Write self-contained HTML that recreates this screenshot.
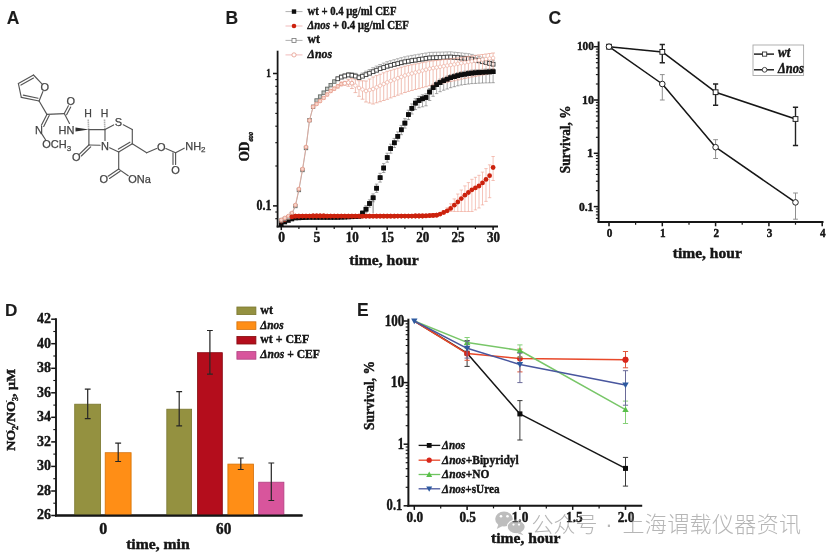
<!DOCTYPE html>
<html><head><meta charset="utf-8"><title>Figure</title>
<style>html,body{margin:0;padding:0;background:#fff}svg{display:block}</style>
</head><body>
<svg width="831" height="556" viewBox="0 0 831 556">
<rect width="831" height="556" fill="#fff"/>
<defs><filter id="soft" x="0" y="0" width="100%" height="100%" filterUnits="userSpaceOnUse"><feGaussianBlur stdDeviation="0.38"/></filter></defs>
<g filter="url(#soft)">
<text x="6.8" y="23.7" font-size="17.5" text-anchor="start" font-family="Liberation Sans, sans-serif" font-weight="bold" fill="#1c1c1c" stroke="#1c1c1c" stroke-width="0.1" >A</text>
<text x="225.6" y="23.5" font-size="17.5" text-anchor="start" font-family="Liberation Sans, sans-serif" font-weight="bold" fill="#1c1c1c" stroke="#1c1c1c" stroke-width="0.1" >B</text>
<text x="548.6" y="23.5" font-size="17.5" text-anchor="start" font-family="Liberation Sans, sans-serif" font-weight="bold" fill="#1c1c1c" stroke="#1c1c1c" stroke-width="0.1" >C</text>
<text x="4.9" y="316.3" font-size="17.2" text-anchor="start" font-family="Liberation Sans, sans-serif" font-weight="bold" fill="#1c1c1c" stroke="#1c1c1c" stroke-width="0.1" >D</text>
<text x="357.1" y="315.8" font-size="17.5" text-anchor="start" font-family="Liberation Sans, sans-serif" font-weight="bold" fill="#1c1c1c" stroke="#1c1c1c" stroke-width="0.1" >E</text>
<g id="molA" stroke="#555" stroke-width="1.15" fill="none" stroke-linecap="round">
<line x1="18.4" y1="83.6" x2="33.5" y2="75.0"/>
<line x1="21.0" y1="85.1" x2="33.5" y2="78.0"/>
<line x1="33.5" y1="75.0" x2="41.7" y2="83.6"/>
<line x1="42.9" y1="91.5" x2="39.1" y2="101.0"/>
<line x1="39.1" y1="101.0" x2="21.3" y2="97.4"/>
<line x1="38.1" y1="98.2" x2="23.3" y2="95.1"/>
<line x1="21.3" y1="97.4" x2="18.4" y2="83.6"/>
<line x1="39.1" y1="101.0" x2="46.9" y2="114.4"/>
<line x1="46.9" y1="114.4" x2="41.4" y2="125.3"/>
<line x1="49.2" y1="115.6" x2="43.7" y2="126.5"/>
<line x1="42.1" y1="134.4" x2="46.0" y2="140.5"/>
<line x1="46.9" y1="114.4" x2="64.3" y2="113.6"/>
<line x1="64.3" y1="113.6" x2="68.4" y2="105.8"/>
<line x1="66.6" y1="114.8" x2="70.7" y2="107.0"/>
<line x1="64.3" y1="113.6" x2="69.5" y2="123.5"/>
<line x1="88.9" y1="129.6" x2="105.0" y2="129.6"/>
<line x1="88.9" y1="129.6" x2="88.9" y2="145.0"/>
<line x1="88.9" y1="145.0" x2="100.0" y2="145.3"/>
<line x1="105.0" y1="129.6" x2="105.0" y2="140.5"/>
<line x1="88.9" y1="145.0" x2="79.5" y2="154.2"/>
<line x1="90.7" y1="146.9" x2="81.3" y2="156.0"/>
<line x1="105.0" y1="129.6" x2="113.6" y2="124.9"/>
<line x1="123.3" y1="124.8" x2="132.3" y2="129.6"/>
<line x1="132.3" y1="129.6" x2="132.3" y2="143.8"/>
<line x1="132.3" y1="143.8" x2="118.7" y2="151.9"/>
<line x1="129.9" y1="142.2" x2="118.4" y2="149.1"/>
<line x1="118.7" y1="151.9" x2="109.6" y2="147.8"/>
<line x1="118.7" y1="151.9" x2="118.7" y2="169.1"/>
<line x1="118.7" y1="169.1" x2="108.1" y2="176.2"/>
<line x1="120.1" y1="171.3" x2="109.5" y2="178.4"/>
<line x1="118.7" y1="169.1" x2="128.2" y2="175.7"/>
<line x1="132.3" y1="143.8" x2="146.7" y2="152.8"/>
<line x1="146.7" y1="152.8" x2="156.6" y2="148.5"/>
<line x1="165.8" y1="148.5" x2="175.6" y2="152.8"/>
<line x1="175.6" y1="152.8" x2="175.6" y2="164.5"/>
<line x1="173.0" y1="152.8" x2="173.0" y2="164.5"/>
<line x1="175.6" y1="152.8" x2="184.2" y2="148.2"/>
</g>
<polygon points="75.5,127.6 75.5,131.6 88.9,129.6" fill="#2e2e2e"/>
<g stroke="#666" stroke-width="1.6" stroke-dasharray="0.8,1.2">
<line x1="88.6" y1="128.5" x2="88.2" y2="119"/>
<line x1="104.8" y1="128.5" x2="104.5" y2="119"/>
</g>
<text x="44.8" y="90.9" font-size="11" text-anchor="middle" font-family="Liberation Sans, sans-serif" fill="#444" stroke="#444" stroke-width="0.25">O</text>
<text x="39.1" y="133.8" font-size="11" text-anchor="middle" font-family="Liberation Sans, sans-serif" fill="#444" stroke="#444" stroke-width="0.25">N</text>
<text x="42.2" y="148.4" font-size="11" text-anchor="start" font-family="Liberation Sans, sans-serif" fill="#444" stroke="#444" stroke-width="0.25">OCH<tspan font-size="8" dy="2.5">3</tspan></text>
<text x="70.7" y="105.4" font-size="11" text-anchor="middle" font-family="Liberation Sans, sans-serif" fill="#444" stroke="#444" stroke-width="0.25">O</text>
<text x="74.5" y="133.8" font-size="11" text-anchor="end" font-family="Liberation Sans, sans-serif" fill="#444" stroke="#444" stroke-width="0.25">HN</text>
<text x="88.0" y="117.2" font-size="10.5" text-anchor="middle" font-family="Liberation Sans, sans-serif" fill="#444" stroke="#444" stroke-width="0.25">H</text>
<text x="104.5" y="117.2" font-size="10.5" text-anchor="middle" font-family="Liberation Sans, sans-serif" fill="#444" stroke="#444" stroke-width="0.25">H</text>
<text x="118.4" y="126.2" font-size="11" text-anchor="middle" font-family="Liberation Sans, sans-serif" fill="#444" stroke="#444" stroke-width="0.25">S</text>
<text x="105.0" y="149.8" font-size="11" text-anchor="middle" font-family="Liberation Sans, sans-serif" fill="#444" stroke="#444" stroke-width="0.25">N</text>
<text x="76.3" y="161.3" font-size="11" text-anchor="middle" font-family="Liberation Sans, sans-serif" fill="#444" stroke="#444" stroke-width="0.25">O</text>
<text x="103.9" y="183.0" font-size="11" text-anchor="middle" font-family="Liberation Sans, sans-serif" fill="#444" stroke="#444" stroke-width="0.25">O</text>
<text x="128.3" y="183.0" font-size="11" text-anchor="start" font-family="Liberation Sans, sans-serif" fill="#444" stroke="#444" stroke-width="0.25">ONa</text>
<text x="161.2" y="150.5" font-size="11" text-anchor="middle" font-family="Liberation Sans, sans-serif" fill="#444" stroke="#444" stroke-width="0.25">O</text>
<text x="175.6" y="174.0" font-size="11" text-anchor="middle" font-family="Liberation Sans, sans-serif" fill="#444" stroke="#444" stroke-width="0.25">O</text>
<text x="185.2" y="149.6" font-size="11" text-anchor="start" font-family="Liberation Sans, sans-serif" fill="#444" stroke="#444" stroke-width="0.25">NH<tspan font-size="8" dy="2.5">2</tspan></text>
<line x1="277.6" y1="50.7" x2="277.6" y2="227.4" stroke="#141414" stroke-width="1.8" />
<line x1="276.7" y1="226.5" x2="498.0" y2="226.5" stroke="#141414" stroke-width="1.8" />
<line x1="273.0" y1="73.5" x2="277.6" y2="73.5" stroke="#141414" stroke-width="1.5" />
<line x1="273.0" y1="205.9" x2="277.6" y2="205.9" stroke="#141414" stroke-width="1.5" />
<line x1="275.3" y1="218.7" x2="277.6" y2="218.7" stroke="#141414" stroke-width="1.1" />
<line x1="275.3" y1="212.0" x2="277.6" y2="212.0" stroke="#141414" stroke-width="1.1" />
<line x1="275.3" y1="166.0" x2="277.6" y2="166.0" stroke="#141414" stroke-width="1.1" />
<line x1="275.3" y1="142.7" x2="277.6" y2="142.7" stroke="#141414" stroke-width="1.1" />
<line x1="275.3" y1="126.2" x2="277.6" y2="126.2" stroke="#141414" stroke-width="1.1" />
<line x1="275.3" y1="113.4" x2="277.6" y2="113.4" stroke="#141414" stroke-width="1.1" />
<line x1="275.3" y1="102.9" x2="277.6" y2="102.9" stroke="#141414" stroke-width="1.1" />
<line x1="275.3" y1="94.0" x2="277.6" y2="94.0" stroke="#141414" stroke-width="1.1" />
<line x1="275.3" y1="86.3" x2="277.6" y2="86.3" stroke="#141414" stroke-width="1.1" />
<line x1="275.3" y1="79.6" x2="277.6" y2="79.6" stroke="#141414" stroke-width="1.1" />
<line x1="281.3" y1="226.5" x2="281.3" y2="230.1" stroke="#141414" stroke-width="1.5" />
<line x1="316.6" y1="226.5" x2="316.6" y2="230.1" stroke="#141414" stroke-width="1.5" />
<line x1="351.9" y1="226.5" x2="351.9" y2="230.1" stroke="#141414" stroke-width="1.5" />
<line x1="387.2" y1="226.5" x2="387.2" y2="230.1" stroke="#141414" stroke-width="1.5" />
<line x1="422.5" y1="226.5" x2="422.5" y2="230.1" stroke="#141414" stroke-width="1.5" />
<line x1="457.8" y1="226.5" x2="457.8" y2="230.1" stroke="#141414" stroke-width="1.5" />
<line x1="493.1" y1="226.5" x2="493.1" y2="230.1" stroke="#141414" stroke-width="1.5" />
<line x1="298.9" y1="226.5" x2="298.9" y2="228.9" stroke="#141414" stroke-width="1.2" />
<line x1="334.2" y1="226.5" x2="334.2" y2="228.9" stroke="#141414" stroke-width="1.2" />
<line x1="369.6" y1="226.5" x2="369.6" y2="228.9" stroke="#141414" stroke-width="1.2" />
<line x1="404.9" y1="226.5" x2="404.9" y2="228.9" stroke="#141414" stroke-width="1.2" />
<line x1="440.1" y1="226.5" x2="440.1" y2="228.9" stroke="#141414" stroke-width="1.2" />
<line x1="475.4" y1="226.5" x2="475.4" y2="228.9" stroke="#141414" stroke-width="1.2" />
<text x="270.8" y="77.4" font-size="12.8" text-anchor="end" font-family="Liberation Serif, serif" font-weight="bold" fill="#141414" stroke="#141414" stroke-width="0.42" textLength="4.6" lengthAdjust="spacingAndGlyphs" >1</text>
<text x="271.6" y="210.2" font-size="14.2" text-anchor="end" font-family="Liberation Serif, serif" font-weight="bold" fill="#141414" stroke="#141414" stroke-width="0.42" textLength="15.0" lengthAdjust="spacingAndGlyphs" >0.1</text>
<text x="281.6" y="242.1" font-size="13.6" text-anchor="middle" font-family="Liberation Serif, serif" font-weight="bold" fill="#141414" stroke="#141414" stroke-width="0.42" >0</text>
<text x="316.9" y="242.1" font-size="13.6" text-anchor="middle" font-family="Liberation Serif, serif" font-weight="bold" fill="#141414" stroke="#141414" stroke-width="0.42" >5</text>
<text x="352.2" y="242.1" font-size="13.6" text-anchor="middle" font-family="Liberation Serif, serif" font-weight="bold" fill="#141414" stroke="#141414" stroke-width="0.42" textLength="13.0" lengthAdjust="spacingAndGlyphs" >10</text>
<text x="387.5" y="242.1" font-size="13.6" text-anchor="middle" font-family="Liberation Serif, serif" font-weight="bold" fill="#141414" stroke="#141414" stroke-width="0.42" textLength="13.0" lengthAdjust="spacingAndGlyphs" >15</text>
<text x="422.8" y="242.1" font-size="13.6" text-anchor="middle" font-family="Liberation Serif, serif" font-weight="bold" fill="#141414" stroke="#141414" stroke-width="0.42" textLength="13.0" lengthAdjust="spacingAndGlyphs" >20</text>
<text x="458.1" y="242.1" font-size="13.6" text-anchor="middle" font-family="Liberation Serif, serif" font-weight="bold" fill="#141414" stroke="#141414" stroke-width="0.42" textLength="13.0" lengthAdjust="spacingAndGlyphs" >25</text>
<text x="493.4" y="242.1" font-size="13.6" text-anchor="middle" font-family="Liberation Serif, serif" font-weight="bold" fill="#141414" stroke="#141414" stroke-width="0.42" textLength="13.0" lengthAdjust="spacingAndGlyphs" >30</text>
<text x="384.0" y="264.5" font-size="14.7" text-anchor="middle" font-family="Liberation Serif, serif" font-weight="bold" fill="#141414" stroke="#141414" stroke-width="0.42" textLength="69.5" lengthAdjust="spacingAndGlyphs" >time, hour</text>
<text transform="translate(248.7,146.9) rotate(-90)" font-size="14" text-anchor="middle" font-family="Liberation Serif, serif" font-weight="bold" fill="#141414" stroke="#141414" stroke-width="0.42" textLength="29.4" lengthAdjust="spacingAndGlyphs" >OD<tspan font-size="6.6" dy="4.6" font-style="italic">600</tspan></text>
<path d="M362.5 211.1V215.1M360.8 211.1H364.2M360.8 215.1H364.2" stroke="#6e6e6e" stroke-width="0.6" fill="none"/>
<path d="M366.0 205.7V212.7M364.3 205.7H367.7M364.3 212.7H367.7" stroke="#6e6e6e" stroke-width="0.6" fill="none"/>
<path d="M369.6 199.8V207.2M367.9 199.8H371.2M367.9 207.2H371.2" stroke="#6e6e6e" stroke-width="0.6" fill="none"/>
<path d="M373.1 193.9V201.8M371.4 193.9H374.8M371.4 201.8H374.8" stroke="#6e6e6e" stroke-width="0.6" fill="none"/>
<path d="M376.6 184.1V192.4M374.9 184.1H378.3M374.9 192.4H378.3" stroke="#6e6e6e" stroke-width="0.6" fill="none"/>
<path d="M380.1 173.3V182.1M378.4 173.3H381.8M378.4 182.1H381.8" stroke="#6e6e6e" stroke-width="0.6" fill="none"/>
<path d="M383.7 163.6V172.5M382.0 163.6H385.4M382.0 172.5H385.4" stroke="#6e6e6e" stroke-width="0.6" fill="none"/>
<path d="M387.2 153.2V162.2M385.5 153.2H388.9M385.5 162.2H388.9" stroke="#6e6e6e" stroke-width="0.6" fill="none"/>
<path d="M390.7 144.2V153.2M389.0 144.2H392.4M389.0 153.2H392.4" stroke="#6e6e6e" stroke-width="0.6" fill="none"/>
<path d="M394.3 138.4V147.5M392.6 138.4H396.0M392.6 147.5H396.0" stroke="#6e6e6e" stroke-width="0.6" fill="none"/>
<path d="M397.8 131.9V141.1M396.1 131.9H399.5M396.1 141.1H399.5" stroke="#6e6e6e" stroke-width="0.6" fill="none"/>
<path d="M401.3 125.4V134.7M399.6 125.4H403.0M399.6 134.7H403.0" stroke="#6e6e6e" stroke-width="0.6" fill="none"/>
<path d="M404.9 118.7V128.1M403.2 118.7H406.6M403.2 128.1H406.6" stroke="#6e6e6e" stroke-width="0.6" fill="none"/>
<path d="M408.4 110.2V119.6M406.7 110.2H410.1M406.7 119.6H410.1" stroke="#6e6e6e" stroke-width="0.6" fill="none"/>
<path d="M411.9 103.9V114.0M410.2 103.9H413.6M410.2 114.0H413.6" stroke="#6e6e6e" stroke-width="0.6" fill="none"/>
<path d="M415.4 98.7V109.6M413.7 98.7H417.1M413.7 109.6H417.1" stroke="#6e6e6e" stroke-width="0.6" fill="none"/>
<path d="M419.0 96.3V107.7M417.3 96.3H420.7M417.3 107.7H420.7" stroke="#6e6e6e" stroke-width="0.6" fill="none"/>
<path d="M422.5 94.8V106.8M420.8 94.8H424.2M420.8 106.8H424.2" stroke="#6e6e6e" stroke-width="0.6" fill="none"/>
<path d="M426.0 93.8V105.8M424.3 93.8H427.7M424.3 105.8H427.7" stroke="#6e6e6e" stroke-width="0.6" fill="none"/>
<path d="M429.6 88.5V100.5M427.9 88.5H431.3M427.9 100.5H431.3" stroke="#6e6e6e" stroke-width="0.6" fill="none"/>
<path d="M433.1 84.2V96.3M431.4 84.2H434.8M431.4 96.3H434.8" stroke="#6e6e6e" stroke-width="0.6" fill="none"/>
<path d="M436.6 81.3V93.6M434.9 81.3H438.3M434.9 93.6H438.3" stroke="#6e6e6e" stroke-width="0.6" fill="none"/>
<path d="M440.1 79.2V91.7M438.4 79.2H441.8M438.4 91.7H441.8" stroke="#6e6e6e" stroke-width="0.6" fill="none"/>
<path d="M443.7 77.5V90.2M442.0 77.5H445.4M442.0 90.2H445.4" stroke="#6e6e6e" stroke-width="0.6" fill="none"/>
<path d="M447.2 76.1V89.0M445.5 76.1H448.9M445.5 89.0H448.9" stroke="#6e6e6e" stroke-width="0.6" fill="none"/>
<path d="M450.7 74.7V87.7M449.0 74.7H452.4M449.0 87.7H452.4" stroke="#6e6e6e" stroke-width="0.6" fill="none"/>
<path d="M454.3 73.7V86.7M452.6 73.7H456.0M452.6 86.7H456.0" stroke="#6e6e6e" stroke-width="0.6" fill="none"/>
<path d="M457.8 72.6V85.8M456.1 72.6H459.5M456.1 85.8H459.5" stroke="#6e6e6e" stroke-width="0.6" fill="none"/>
<path d="M461.3 71.8V85.0M459.6 71.8H463.0M459.6 85.0H463.0" stroke="#6e6e6e" stroke-width="0.6" fill="none"/>
<path d="M464.9 71.2V84.5M463.2 71.2H466.6M463.2 84.5H466.6" stroke="#6e6e6e" stroke-width="0.6" fill="none"/>
<path d="M468.4 70.6V84.0M466.7 70.6H470.1M466.7 84.0H470.1" stroke="#6e6e6e" stroke-width="0.6" fill="none"/>
<path d="M471.9 70.1V83.6M470.2 70.1H473.6M470.2 83.6H473.6" stroke="#6e6e6e" stroke-width="0.6" fill="none"/>
<path d="M475.4 69.8V83.4M473.8 69.8H477.1M473.8 83.4H477.1" stroke="#6e6e6e" stroke-width="0.6" fill="none"/>
<path d="M479.0 69.5V83.2M477.3 69.5H480.7M477.3 83.2H480.7" stroke="#6e6e6e" stroke-width="0.6" fill="none"/>
<path d="M482.5 69.3V83.0M480.8 69.3H484.2M480.8 83.0H484.2" stroke="#6e6e6e" stroke-width="0.6" fill="none"/>
<path d="M486.0 69.1V82.9M484.3 69.1H487.7M484.3 82.9H487.7" stroke="#6e6e6e" stroke-width="0.6" fill="none"/>
<path d="M489.6 68.9V82.8M487.9 68.9H491.3M487.9 82.8H491.3" stroke="#6e6e6e" stroke-width="0.6" fill="none"/>
<path d="M493.1 68.7V82.7M491.4 68.7H494.8M491.4 82.7H494.8" stroke="#6e6e6e" stroke-width="0.6" fill="none"/>
<line x1="373.1" y1="197.8" x2="373.1" y2="213.0" stroke="#555" stroke-width="0.7" />
<rect x="279.0" y="221.7" width="4.6" height="4.6" fill="#0a0a0a" stroke="none" stroke-width="1"/>
<rect x="282.5" y="219.7" width="4.6" height="4.6" fill="#0a0a0a" stroke="none" stroke-width="1"/>
<rect x="286.1" y="218.2" width="4.6" height="4.6" fill="#0a0a0a" stroke="none" stroke-width="1"/>
<rect x="289.6" y="216.7" width="4.6" height="4.6" fill="#0a0a0a" stroke="none" stroke-width="1"/>
<rect x="293.1" y="215.7" width="4.6" height="4.6" fill="#0a0a0a" stroke="none" stroke-width="1"/>
<rect x="296.6" y="215.6" width="4.6" height="4.6" fill="#0a0a0a" stroke="none" stroke-width="1"/>
<rect x="300.2" y="215.4" width="4.6" height="4.6" fill="#0a0a0a" stroke="none" stroke-width="1"/>
<rect x="303.7" y="215.3" width="4.6" height="4.6" fill="#0a0a0a" stroke="none" stroke-width="1"/>
<rect x="307.2" y="215.2" width="4.6" height="4.6" fill="#0a0a0a" stroke="none" stroke-width="1"/>
<rect x="310.8" y="215.2" width="4.6" height="4.6" fill="#0a0a0a" stroke="none" stroke-width="1"/>
<rect x="314.3" y="215.2" width="4.6" height="4.6" fill="#0a0a0a" stroke="none" stroke-width="1"/>
<rect x="317.8" y="215.2" width="4.6" height="4.6" fill="#0a0a0a" stroke="none" stroke-width="1"/>
<rect x="321.4" y="215.2" width="4.6" height="4.6" fill="#0a0a0a" stroke="none" stroke-width="1"/>
<rect x="324.9" y="215.2" width="4.6" height="4.6" fill="#0a0a0a" stroke="none" stroke-width="1"/>
<rect x="328.4" y="215.2" width="4.6" height="4.6" fill="#0a0a0a" stroke="none" stroke-width="1"/>
<rect x="331.9" y="215.2" width="4.6" height="4.6" fill="#0a0a0a" stroke="none" stroke-width="1"/>
<rect x="335.5" y="215.2" width="4.6" height="4.6" fill="#0a0a0a" stroke="none" stroke-width="1"/>
<rect x="339.0" y="215.0" width="4.6" height="4.6" fill="#0a0a0a" stroke="none" stroke-width="1"/>
<rect x="342.5" y="214.9" width="4.6" height="4.6" fill="#0a0a0a" stroke="none" stroke-width="1"/>
<rect x="346.1" y="214.7" width="4.6" height="4.6" fill="#0a0a0a" stroke="none" stroke-width="1"/>
<rect x="349.6" y="214.5" width="4.6" height="4.6" fill="#0a0a0a" stroke="none" stroke-width="1"/>
<rect x="353.1" y="214.4" width="4.6" height="4.6" fill="#0a0a0a" stroke="none" stroke-width="1"/>
<rect x="356.7" y="214.2" width="4.6" height="4.6" fill="#0a0a0a" stroke="none" stroke-width="1"/>
<rect x="360.2" y="210.8" width="4.6" height="4.6" fill="#0a0a0a" stroke="none" stroke-width="1"/>
<rect x="363.7" y="206.9" width="4.6" height="4.6" fill="#0a0a0a" stroke="none" stroke-width="1"/>
<rect x="367.2" y="201.2" width="4.6" height="4.6" fill="#0a0a0a" stroke="none" stroke-width="1"/>
<rect x="370.8" y="195.5" width="4.6" height="4.6" fill="#0a0a0a" stroke="none" stroke-width="1"/>
<rect x="374.3" y="185.9" width="4.6" height="4.6" fill="#0a0a0a" stroke="none" stroke-width="1"/>
<rect x="377.8" y="175.4" width="4.6" height="4.6" fill="#0a0a0a" stroke="none" stroke-width="1"/>
<rect x="381.4" y="165.7" width="4.6" height="4.6" fill="#0a0a0a" stroke="none" stroke-width="1"/>
<rect x="384.9" y="155.3" width="4.6" height="4.6" fill="#0a0a0a" stroke="none" stroke-width="1"/>
<rect x="388.4" y="146.3" width="4.6" height="4.6" fill="#0a0a0a" stroke="none" stroke-width="1"/>
<rect x="392.0" y="140.5" width="4.6" height="4.6" fill="#0a0a0a" stroke="none" stroke-width="1"/>
<rect x="395.5" y="134.0" width="4.6" height="4.6" fill="#0a0a0a" stroke="none" stroke-width="1"/>
<rect x="399.0" y="127.5" width="4.6" height="4.6" fill="#0a0a0a" stroke="none" stroke-width="1"/>
<rect x="402.6" y="120.8" width="4.6" height="4.6" fill="#0a0a0a" stroke="none" stroke-width="1"/>
<rect x="406.1" y="112.3" width="4.6" height="4.6" fill="#0a0a0a" stroke="none" stroke-width="1"/>
<rect x="409.6" y="106.0" width="4.6" height="4.6" fill="#0a0a0a" stroke="none" stroke-width="1"/>
<rect x="413.1" y="100.8" width="4.6" height="4.6" fill="#0a0a0a" stroke="none" stroke-width="1"/>
<rect x="416.7" y="98.2" width="4.6" height="4.6" fill="#0a0a0a" stroke="none" stroke-width="1"/>
<rect x="420.2" y="96.5" width="4.6" height="4.6" fill="#0a0a0a" stroke="none" stroke-width="1"/>
<rect x="423.7" y="95.2" width="4.6" height="4.6" fill="#0a0a0a" stroke="none" stroke-width="1"/>
<rect x="427.3" y="89.7" width="4.6" height="4.6" fill="#0a0a0a" stroke="none" stroke-width="1"/>
<rect x="430.8" y="85.3" width="4.6" height="4.6" fill="#0a0a0a" stroke="none" stroke-width="1"/>
<rect x="434.3" y="82.3" width="4.6" height="4.6" fill="#0a0a0a" stroke="none" stroke-width="1"/>
<rect x="437.8" y="80.2" width="4.6" height="4.6" fill="#0a0a0a" stroke="none" stroke-width="1"/>
<rect x="441.4" y="78.4" width="4.6" height="4.6" fill="#0a0a0a" stroke="none" stroke-width="1"/>
<rect x="444.9" y="76.9" width="4.6" height="4.6" fill="#0a0a0a" stroke="none" stroke-width="1"/>
<rect x="448.4" y="75.4" width="4.6" height="4.6" fill="#0a0a0a" stroke="none" stroke-width="1"/>
<rect x="452.0" y="74.4" width="4.6" height="4.6" fill="#0a0a0a" stroke="none" stroke-width="1"/>
<rect x="455.5" y="73.3" width="4.6" height="4.6" fill="#0a0a0a" stroke="none" stroke-width="1"/>
<rect x="459.0" y="72.5" width="4.6" height="4.6" fill="#0a0a0a" stroke="none" stroke-width="1"/>
<rect x="462.6" y="71.9" width="4.6" height="4.6" fill="#0a0a0a" stroke="none" stroke-width="1"/>
<rect x="466.1" y="71.3" width="4.6" height="4.6" fill="#0a0a0a" stroke="none" stroke-width="1"/>
<rect x="469.6" y="70.8" width="4.6" height="4.6" fill="#0a0a0a" stroke="none" stroke-width="1"/>
<rect x="473.1" y="70.5" width="4.6" height="4.6" fill="#0a0a0a" stroke="none" stroke-width="1"/>
<rect x="476.7" y="70.2" width="4.6" height="4.6" fill="#0a0a0a" stroke="none" stroke-width="1"/>
<rect x="480.2" y="70.0" width="4.6" height="4.6" fill="#0a0a0a" stroke="none" stroke-width="1"/>
<rect x="483.7" y="69.8" width="4.6" height="4.6" fill="#0a0a0a" stroke="none" stroke-width="1"/>
<rect x="487.3" y="69.6" width="4.6" height="4.6" fill="#0a0a0a" stroke="none" stroke-width="1"/>
<rect x="490.8" y="69.4" width="4.6" height="4.6" fill="#0a0a0a" stroke="none" stroke-width="1"/>
<path d="M443.7 210.8V213.5M442.0 210.8H445.4M442.0 213.5H445.4" stroke="#ee9c8c" stroke-width="0.6" fill="none"/>
<path d="M447.2 207.8V211.8M445.5 207.8H448.9M445.5 211.8H448.9" stroke="#ee9c8c" stroke-width="0.6" fill="none"/>
<path d="M450.7 203.8V211.5M449.0 203.8H452.4M449.0 211.5H452.4" stroke="#ee9c8c" stroke-width="0.6" fill="none"/>
<path d="M454.3 198.9V211.5M452.6 198.9H456.0M452.6 211.5H456.0" stroke="#ee9c8c" stroke-width="0.6" fill="none"/>
<path d="M457.8 194.0V211.5M456.1 194.0H459.5M456.1 211.5H459.5" stroke="#ee9c8c" stroke-width="0.6" fill="none"/>
<path d="M461.3 190.0V211.5M459.6 190.0H463.0M459.6 211.5H463.0" stroke="#ee9c8c" stroke-width="0.6" fill="none"/>
<path d="M464.9 185.9V211.5M463.2 185.9H466.6M463.2 211.5H466.6" stroke="#ee9c8c" stroke-width="0.6" fill="none"/>
<path d="M468.4 182.6V211.5M466.7 182.6H470.1M466.7 211.5H470.1" stroke="#ee9c8c" stroke-width="0.6" fill="none"/>
<path d="M471.9 179.3V211.5M470.2 179.3H473.6M470.2 211.5H473.6" stroke="#ee9c8c" stroke-width="0.6" fill="none"/>
<path d="M475.4 177.3V209.9M473.8 177.3H477.1M473.8 209.9H477.1" stroke="#ee9c8c" stroke-width="0.6" fill="none"/>
<path d="M479.0 175.3V208.0M477.3 175.3H480.7M477.3 208.0H480.7" stroke="#ee9c8c" stroke-width="0.6" fill="none"/>
<path d="M482.5 172.1V204.9M480.8 172.1H484.2M480.8 204.9H484.2" stroke="#ee9c8c" stroke-width="0.6" fill="none"/>
<path d="M486.0 168.6V201.4M484.3 168.6H487.7M484.3 201.4H487.7" stroke="#ee9c8c" stroke-width="0.6" fill="none"/>
<path d="M489.6 164.8V197.7M487.9 164.8H491.3M487.9 197.7H491.3" stroke="#ee9c8c" stroke-width="0.6" fill="none"/>
<path d="M493.1 156.5V180.5M491.4 156.5H494.8M491.4 180.5H494.8" stroke="#ee9c8c" stroke-width="0.6" fill="none"/>
<circle cx="281.3" cy="221.0" r="2.4" fill="#cc220e" stroke="none" stroke-width="1"/>
<circle cx="284.8" cy="219.5" r="2.4" fill="#cc220e" stroke="none" stroke-width="1"/>
<circle cx="288.4" cy="217.5" r="2.4" fill="#cc220e" stroke="none" stroke-width="1"/>
<circle cx="291.9" cy="216.8" r="2.4" fill="#cc220e" stroke="none" stroke-width="1"/>
<circle cx="295.4" cy="216.2" r="2.4" fill="#cc220e" stroke="none" stroke-width="1"/>
<circle cx="298.9" cy="216.2" r="2.4" fill="#cc220e" stroke="none" stroke-width="1"/>
<circle cx="302.5" cy="216.1" r="2.4" fill="#cc220e" stroke="none" stroke-width="1"/>
<circle cx="306.0" cy="216.1" r="2.4" fill="#cc220e" stroke="none" stroke-width="1"/>
<circle cx="309.5" cy="216.1" r="2.4" fill="#cc220e" stroke="none" stroke-width="1"/>
<circle cx="313.1" cy="216.0" r="2.4" fill="#cc220e" stroke="none" stroke-width="1"/>
<circle cx="316.6" cy="216.0" r="2.4" fill="#cc220e" stroke="none" stroke-width="1"/>
<circle cx="320.1" cy="216.0" r="2.4" fill="#cc220e" stroke="none" stroke-width="1"/>
<circle cx="323.7" cy="216.0" r="2.4" fill="#cc220e" stroke="none" stroke-width="1"/>
<circle cx="327.2" cy="216.1" r="2.4" fill="#cc220e" stroke="none" stroke-width="1"/>
<circle cx="330.7" cy="216.1" r="2.4" fill="#cc220e" stroke="none" stroke-width="1"/>
<circle cx="334.2" cy="216.1" r="2.4" fill="#cc220e" stroke="none" stroke-width="1"/>
<circle cx="337.8" cy="216.1" r="2.4" fill="#cc220e" stroke="none" stroke-width="1"/>
<circle cx="341.3" cy="216.1" r="2.4" fill="#cc220e" stroke="none" stroke-width="1"/>
<circle cx="344.8" cy="216.2" r="2.4" fill="#cc220e" stroke="none" stroke-width="1"/>
<circle cx="348.4" cy="216.2" r="2.4" fill="#cc220e" stroke="none" stroke-width="1"/>
<circle cx="351.9" cy="216.2" r="2.4" fill="#cc220e" stroke="none" stroke-width="1"/>
<circle cx="355.4" cy="216.2" r="2.4" fill="#cc220e" stroke="none" stroke-width="1"/>
<circle cx="359.0" cy="216.2" r="2.4" fill="#cc220e" stroke="none" stroke-width="1"/>
<circle cx="362.5" cy="216.2" r="2.4" fill="#cc220e" stroke="none" stroke-width="1"/>
<circle cx="366.0" cy="216.2" r="2.4" fill="#cc220e" stroke="none" stroke-width="1"/>
<circle cx="369.6" cy="216.2" r="2.4" fill="#cc220e" stroke="none" stroke-width="1"/>
<circle cx="373.1" cy="216.2" r="2.4" fill="#cc220e" stroke="none" stroke-width="1"/>
<circle cx="376.6" cy="216.2" r="2.4" fill="#cc220e" stroke="none" stroke-width="1"/>
<circle cx="380.1" cy="216.2" r="2.4" fill="#cc220e" stroke="none" stroke-width="1"/>
<circle cx="383.7" cy="216.2" r="2.4" fill="#cc220e" stroke="none" stroke-width="1"/>
<circle cx="387.2" cy="216.2" r="2.4" fill="#cc220e" stroke="none" stroke-width="1"/>
<circle cx="390.7" cy="216.2" r="2.4" fill="#cc220e" stroke="none" stroke-width="1"/>
<circle cx="394.3" cy="216.2" r="2.4" fill="#cc220e" stroke="none" stroke-width="1"/>
<circle cx="397.8" cy="216.1" r="2.4" fill="#cc220e" stroke="none" stroke-width="1"/>
<circle cx="401.3" cy="216.1" r="2.4" fill="#cc220e" stroke="none" stroke-width="1"/>
<circle cx="404.9" cy="216.1" r="2.4" fill="#cc220e" stroke="none" stroke-width="1"/>
<circle cx="408.4" cy="216.1" r="2.4" fill="#cc220e" stroke="none" stroke-width="1"/>
<circle cx="411.9" cy="216.1" r="2.4" fill="#cc220e" stroke="none" stroke-width="1"/>
<circle cx="415.4" cy="216.0" r="2.4" fill="#cc220e" stroke="none" stroke-width="1"/>
<circle cx="419.0" cy="216.0" r="2.4" fill="#cc220e" stroke="none" stroke-width="1"/>
<circle cx="422.5" cy="216.0" r="2.4" fill="#cc220e" stroke="none" stroke-width="1"/>
<circle cx="426.0" cy="215.8" r="2.4" fill="#cc220e" stroke="none" stroke-width="1"/>
<circle cx="429.6" cy="215.6" r="2.4" fill="#cc220e" stroke="none" stroke-width="1"/>
<circle cx="433.1" cy="215.4" r="2.4" fill="#cc220e" stroke="none" stroke-width="1"/>
<circle cx="436.6" cy="215.2" r="2.4" fill="#cc220e" stroke="none" stroke-width="1"/>
<circle cx="440.1" cy="214.1" r="2.4" fill="#cc220e" stroke="none" stroke-width="1"/>
<circle cx="443.7" cy="212.5" r="2.4" fill="#cc220e" stroke="none" stroke-width="1"/>
<circle cx="447.2" cy="210.8" r="2.4" fill="#cc220e" stroke="none" stroke-width="1"/>
<circle cx="450.7" cy="208.4" r="2.4" fill="#cc220e" stroke="none" stroke-width="1"/>
<circle cx="454.3" cy="205.2" r="2.4" fill="#cc220e" stroke="none" stroke-width="1"/>
<circle cx="457.8" cy="202.0" r="2.4" fill="#cc220e" stroke="none" stroke-width="1"/>
<circle cx="461.3" cy="198.6" r="2.4" fill="#cc220e" stroke="none" stroke-width="1"/>
<circle cx="464.9" cy="195.2" r="2.4" fill="#cc220e" stroke="none" stroke-width="1"/>
<circle cx="468.4" cy="192.5" r="2.4" fill="#cc220e" stroke="none" stroke-width="1"/>
<circle cx="471.9" cy="189.8" r="2.4" fill="#cc220e" stroke="none" stroke-width="1"/>
<circle cx="475.4" cy="187.9" r="2.4" fill="#cc220e" stroke="none" stroke-width="1"/>
<circle cx="479.0" cy="186.0" r="2.4" fill="#cc220e" stroke="none" stroke-width="1"/>
<circle cx="482.5" cy="182.9" r="2.4" fill="#cc220e" stroke="none" stroke-width="1"/>
<circle cx="486.0" cy="179.4" r="2.4" fill="#cc220e" stroke="none" stroke-width="1"/>
<circle cx="489.6" cy="175.7" r="2.4" fill="#cc220e" stroke="none" stroke-width="1"/>
<circle cx="493.1" cy="167.5" r="2.4" fill="#cc220e" stroke="none" stroke-width="1"/>
<path d="M298.9 189.2V190.3M297.1 189.2H300.8M297.1 190.3H300.8" stroke="#858585" stroke-width="0.6" fill="none"/>
<path d="M302.5 169.1V170.3M300.6 169.1H304.4M300.6 170.3H304.4" stroke="#858585" stroke-width="0.6" fill="none"/>
<path d="M306.0 147.1V148.4M304.1 147.1H307.9M304.1 148.4H307.9" stroke="#858585" stroke-width="0.6" fill="none"/>
<path d="M309.5 119.2V120.6M307.6 119.2H311.4M307.6 120.6H311.4" stroke="#858585" stroke-width="0.6" fill="none"/>
<path d="M313.1 105.7V107.2M311.2 105.7H315.0M311.2 107.2H315.0" stroke="#858585" stroke-width="0.6" fill="none"/>
<path d="M316.6 99.2V101.0M314.7 99.2H318.5M314.7 101.0H318.5" stroke="#858585" stroke-width="0.6" fill="none"/>
<path d="M320.1 95.2V97.1M318.2 95.2H322.0M318.2 97.1H322.0" stroke="#858585" stroke-width="0.6" fill="none"/>
<path d="M323.7 91.2V93.3M321.8 91.2H325.6M321.8 93.3H325.6" stroke="#858585" stroke-width="0.6" fill="none"/>
<path d="M327.2 87.3V89.6M325.3 87.3H329.1M325.3 89.6H329.1" stroke="#858585" stroke-width="0.6" fill="none"/>
<path d="M330.7 83.5V85.9M328.8 83.5H332.6M328.8 85.9H332.6" stroke="#858585" stroke-width="0.6" fill="none"/>
<path d="M334.2 79.8V82.4M332.4 79.8H336.1M332.4 82.4H336.1" stroke="#858585" stroke-width="0.6" fill="none"/>
<path d="M337.8 76.8V79.6M335.9 76.8H339.7M335.9 79.6H339.7" stroke="#858585" stroke-width="0.6" fill="none"/>
<path d="M341.3 74.9V77.9M339.4 74.9H343.2M339.4 77.9H343.2" stroke="#858585" stroke-width="0.6" fill="none"/>
<path d="M344.8 73.7V77.0M342.9 73.7H346.7M342.9 77.0H346.7" stroke="#858585" stroke-width="0.6" fill="none"/>
<path d="M348.4 72.5V76.0M346.5 72.5H350.3M346.5 76.0H350.3" stroke="#858585" stroke-width="0.6" fill="none"/>
<path d="M351.9 72.6V76.4M350.0 72.6H353.8M350.0 76.4H353.8" stroke="#858585" stroke-width="0.6" fill="none"/>
<path d="M355.4 73.3V77.3M353.5 73.3H357.3M353.5 77.3H357.3" stroke="#858585" stroke-width="0.6" fill="none"/>
<path d="M359.0 74.7V78.9M357.1 74.7H360.9M357.1 78.9H360.9" stroke="#858585" stroke-width="0.6" fill="none"/>
<path d="M362.5 73.0V77.5M360.6 73.0H364.4M360.6 77.5H364.4" stroke="#858585" stroke-width="0.6" fill="none"/>
<path d="M366.0 71.2V76.1M364.1 71.2H367.9M364.1 76.1H367.9" stroke="#858585" stroke-width="0.6" fill="none"/>
<path d="M369.6 69.5V74.7M367.7 69.5H371.4M367.7 74.7H371.4" stroke="#858585" stroke-width="0.6" fill="none"/>
<path d="M373.1 67.7V73.3M371.2 67.7H375.0M371.2 73.3H375.0" stroke="#858585" stroke-width="0.6" fill="none"/>
<path d="M376.6 66.1V71.9M374.7 66.1H378.5M374.7 71.9H378.5" stroke="#858585" stroke-width="0.6" fill="none"/>
<path d="M380.1 64.5V70.4M378.2 64.5H382.0M378.2 70.4H382.0" stroke="#858585" stroke-width="0.6" fill="none"/>
<path d="M383.7 63.1V69.2M381.8 63.1H385.6M381.8 69.2H385.6" stroke="#858585" stroke-width="0.6" fill="none"/>
<path d="M387.2 61.7V68.0M385.3 61.7H389.1M385.3 68.0H389.1" stroke="#858585" stroke-width="0.6" fill="none"/>
<path d="M390.7 60.7V67.2M388.8 60.7H392.6M388.8 67.2H392.6" stroke="#858585" stroke-width="0.6" fill="none"/>
<path d="M394.3 59.7V66.3M392.4 59.7H396.2M392.4 66.3H396.2" stroke="#858585" stroke-width="0.6" fill="none"/>
<path d="M397.8 58.7V65.5M395.9 58.7H399.7M395.9 65.5H399.7" stroke="#858585" stroke-width="0.6" fill="none"/>
<path d="M401.3 57.7V64.7M399.4 57.7H403.2M399.4 64.7H403.2" stroke="#858585" stroke-width="0.6" fill="none"/>
<path d="M404.9 56.8V63.9M403.0 56.8H406.8M403.0 63.9H406.8" stroke="#858585" stroke-width="0.6" fill="none"/>
<path d="M408.4 56.0V63.2M406.5 56.0H410.3M406.5 63.2H410.3" stroke="#858585" stroke-width="0.6" fill="none"/>
<path d="M411.9 55.4V62.7M410.0 55.4H413.8M410.0 62.7H413.8" stroke="#858585" stroke-width="0.6" fill="none"/>
<path d="M415.4 54.8V62.2M413.5 54.8H417.3M413.5 62.2H417.3" stroke="#858585" stroke-width="0.6" fill="none"/>
<path d="M419.0 54.2V61.7M417.1 54.2H420.9M417.1 61.7H420.9" stroke="#858585" stroke-width="0.6" fill="none"/>
<path d="M422.5 53.6V61.1M420.6 53.6H424.4M420.6 61.1H424.4" stroke="#858585" stroke-width="0.6" fill="none"/>
<path d="M426.0 53.0V60.6M424.1 53.0H427.9M424.1 60.6H427.9" stroke="#858585" stroke-width="0.6" fill="none"/>
<path d="M429.6 52.4V60.1M427.7 52.4H431.5M427.7 60.1H431.5" stroke="#858585" stroke-width="0.6" fill="none"/>
<path d="M433.1 52.3V59.9M431.2 52.3H435.0M431.2 59.9H435.0" stroke="#858585" stroke-width="0.6" fill="none"/>
<path d="M436.6 52.2V59.8M434.7 52.2H438.5M434.7 59.8H438.5" stroke="#858585" stroke-width="0.6" fill="none"/>
<path d="M440.1 52.1V59.6M438.2 52.1H442.0M438.2 59.6H442.0" stroke="#858585" stroke-width="0.6" fill="none"/>
<path d="M443.7 52.0V59.4M441.8 52.0H445.6M441.8 59.4H445.6" stroke="#858585" stroke-width="0.6" fill="none"/>
<path d="M447.2 51.9V59.2M445.3 51.9H449.1M445.3 59.2H449.1" stroke="#858585" stroke-width="0.6" fill="none"/>
<path d="M450.7 51.8V59.1M448.8 51.8H452.6M448.8 59.1H452.6" stroke="#858585" stroke-width="0.6" fill="none"/>
<path d="M454.3 52.2V59.4M452.4 52.2H456.2M452.4 59.4H456.2" stroke="#858585" stroke-width="0.6" fill="none"/>
<path d="M457.8 52.5V59.7M455.9 52.5H459.7M455.9 59.7H459.7" stroke="#858585" stroke-width="0.6" fill="none"/>
<path d="M461.3 52.9V60.0M459.4 52.9H463.2M459.4 60.0H463.2" stroke="#858585" stroke-width="0.6" fill="none"/>
<path d="M464.9 53.3V60.3M463.0 53.3H466.8M463.0 60.3H466.8" stroke="#858585" stroke-width="0.6" fill="none"/>
<path d="M468.4 53.7V60.6M466.5 53.7H470.3M466.5 60.6H470.3" stroke="#858585" stroke-width="0.6" fill="none"/>
<path d="M471.9 54.4V61.0M470.0 54.4H473.8M470.0 61.0H473.8" stroke="#858585" stroke-width="0.6" fill="none"/>
<path d="M475.4 55.4V61.8M473.6 55.4H477.3M473.6 61.8H477.3" stroke="#858585" stroke-width="0.6" fill="none"/>
<path d="M479.0 56.3V62.6M477.1 56.3H480.9M477.1 62.6H480.9" stroke="#858585" stroke-width="0.6" fill="none"/>
<path d="M482.5 57.3V63.4M480.6 57.3H484.4M480.6 63.4H484.4" stroke="#858585" stroke-width="0.6" fill="none"/>
<path d="M486.0 58.3V64.2M484.1 58.3H487.9M484.1 64.2H487.9" stroke="#858585" stroke-width="0.6" fill="none"/>
<path d="M489.6 59.2V65.0M487.7 59.2H491.5M487.7 65.0H491.5" stroke="#858585" stroke-width="0.6" fill="none"/>
<path d="M493.1 60.2V65.8M491.2 60.2H495.0M491.2 65.8H495.0" stroke="#858585" stroke-width="0.6" fill="none"/>
<polyline points="281.3,220.5 284.8,219.0 288.4,217.5 291.9,214.0 295.4,206.0 298.9,190.0 302.5,170.0 306.0,148.0 309.5,120.2 313.1,106.8 316.6,100.5 320.1,96.6 323.7,92.7 327.2,89.0 330.7,85.2 334.2,81.6 337.8,78.8 341.3,77.1 344.8,76.0 348.4,75.0 351.9,75.3 355.4,76.1 359.0,77.7 362.5,76.2 366.0,74.7 369.6,73.2 373.1,71.7 376.6,70.2 380.1,68.7 383.7,67.5 387.2,66.2 390.7,65.3 394.3,64.4 397.8,63.6 401.3,62.7 404.9,61.8 408.4,61.2 411.9,60.6 415.4,60.1 419.0,59.5 422.5,59.0 426.0,58.4 429.6,57.9 433.1,57.8 436.6,57.6 440.1,57.5 443.7,57.3 447.2,57.1 450.7,57.0 454.3,57.3 457.8,57.6 461.3,58.0 464.9,58.3 468.4,58.6 471.9,59.1 475.4,60.0 479.0,60.8 482.5,61.7 486.0,62.5 489.6,63.4 493.1,64.2" fill="none" stroke="#8a8a8a" stroke-width="0.7" stroke-linejoin="round" />
<rect x="279.6" y="218.8" width="3.4" height="3.4" fill="#c4c8c4" stroke="#6c706c" stroke-width="0.9"/>
<rect x="283.1" y="217.3" width="3.4" height="3.4" fill="#c4c8c4" stroke="#6c706c" stroke-width="0.9"/>
<rect x="286.7" y="215.8" width="3.4" height="3.4" fill="#c4c8c4" stroke="#6c706c" stroke-width="0.9"/>
<rect x="290.2" y="212.3" width="3.4" height="3.4" fill="#c4c8c4" stroke="#6c706c" stroke-width="0.9"/>
<rect x="293.7" y="204.3" width="3.4" height="3.4" fill="#c4c8c4" stroke="#6c706c" stroke-width="0.9"/>
<rect x="297.2" y="188.3" width="3.4" height="3.4" fill="#c4c8c4" stroke="#6c706c" stroke-width="0.9"/>
<rect x="300.8" y="168.3" width="3.4" height="3.4" fill="#c4c8c4" stroke="#6c706c" stroke-width="0.9"/>
<rect x="304.3" y="146.3" width="3.4" height="3.4" fill="#c4c8c4" stroke="#6c706c" stroke-width="0.9"/>
<rect x="307.8" y="118.5" width="3.4" height="3.4" fill="#c4c8c4" stroke="#6c706c" stroke-width="0.9"/>
<rect x="311.4" y="105.1" width="3.4" height="3.4" fill="#c4c8c4" stroke="#6c706c" stroke-width="0.9"/>
<rect x="314.9" y="98.8" width="3.4" height="3.4" fill="#c4c8c4" stroke="#6c706c" stroke-width="0.9"/>
<rect x="318.4" y="94.9" width="3.4" height="3.4" fill="#c4c8c4" stroke="#6c706c" stroke-width="0.9"/>
<rect x="322.0" y="91.0" width="3.4" height="3.4" fill="#c4c8c4" stroke="#6c706c" stroke-width="0.9"/>
<rect x="325.5" y="87.2" width="3.4" height="3.4" fill="#c4c8c4" stroke="#6c706c" stroke-width="0.9"/>
<rect x="329.0" y="83.5" width="3.4" height="3.4" fill="#c4c8c4" stroke="#6c706c" stroke-width="0.9"/>
<rect x="332.6" y="79.9" width="3.4" height="3.4" fill="#c4c8c4" stroke="#6c706c" stroke-width="0.9"/>
<rect x="335.9" y="76.9" width="3.8" height="3.8" fill="#fff" stroke="#3c3c3c" stroke-width="0.9"/>
<rect x="339.4" y="75.2" width="3.8" height="3.8" fill="#fff" stroke="#3c3c3c" stroke-width="0.9"/>
<rect x="342.9" y="74.1" width="3.8" height="3.8" fill="#fff" stroke="#3c3c3c" stroke-width="0.9"/>
<rect x="346.5" y="73.1" width="3.8" height="3.8" fill="#fff" stroke="#3c3c3c" stroke-width="0.9"/>
<rect x="350.0" y="73.4" width="3.8" height="3.8" fill="#fff" stroke="#3c3c3c" stroke-width="0.9"/>
<rect x="353.5" y="74.2" width="3.8" height="3.8" fill="#fff" stroke="#3c3c3c" stroke-width="0.9"/>
<rect x="357.1" y="75.8" width="3.8" height="3.8" fill="#fff" stroke="#3c3c3c" stroke-width="0.9"/>
<rect x="360.6" y="74.3" width="3.8" height="3.8" fill="#fff" stroke="#3c3c3c" stroke-width="0.9"/>
<rect x="364.1" y="72.8" width="3.8" height="3.8" fill="#fff" stroke="#3c3c3c" stroke-width="0.9"/>
<rect x="367.7" y="71.3" width="3.8" height="3.8" fill="#fff" stroke="#3c3c3c" stroke-width="0.9"/>
<rect x="371.2" y="69.8" width="3.8" height="3.8" fill="#fff" stroke="#3c3c3c" stroke-width="0.9"/>
<rect x="374.7" y="68.3" width="3.8" height="3.8" fill="#fff" stroke="#3c3c3c" stroke-width="0.9"/>
<rect x="378.2" y="66.8" width="3.8" height="3.8" fill="#fff" stroke="#3c3c3c" stroke-width="0.9"/>
<rect x="381.8" y="65.6" width="3.8" height="3.8" fill="#fff" stroke="#3c3c3c" stroke-width="0.9"/>
<rect x="385.3" y="64.3" width="3.8" height="3.8" fill="#fff" stroke="#3c3c3c" stroke-width="0.9"/>
<rect x="388.8" y="63.4" width="3.8" height="3.8" fill="#fff" stroke="#3c3c3c" stroke-width="0.9"/>
<rect x="392.4" y="62.5" width="3.8" height="3.8" fill="#fff" stroke="#3c3c3c" stroke-width="0.9"/>
<rect x="395.9" y="61.7" width="3.8" height="3.8" fill="#fff" stroke="#3c3c3c" stroke-width="0.9"/>
<rect x="399.4" y="60.8" width="3.8" height="3.8" fill="#fff" stroke="#3c3c3c" stroke-width="0.9"/>
<rect x="403.0" y="59.9" width="3.8" height="3.8" fill="#fff" stroke="#3c3c3c" stroke-width="0.9"/>
<rect x="406.5" y="59.3" width="3.8" height="3.8" fill="#fff" stroke="#3c3c3c" stroke-width="0.9"/>
<rect x="410.0" y="58.7" width="3.8" height="3.8" fill="#fff" stroke="#3c3c3c" stroke-width="0.9"/>
<rect x="413.5" y="58.2" width="3.8" height="3.8" fill="#fff" stroke="#3c3c3c" stroke-width="0.9"/>
<rect x="417.1" y="57.6" width="3.8" height="3.8" fill="#fff" stroke="#3c3c3c" stroke-width="0.9"/>
<rect x="420.6" y="57.1" width="3.8" height="3.8" fill="#fff" stroke="#3c3c3c" stroke-width="0.9"/>
<rect x="424.1" y="56.5" width="3.8" height="3.8" fill="#fff" stroke="#3c3c3c" stroke-width="0.9"/>
<rect x="427.7" y="56.0" width="3.8" height="3.8" fill="#fff" stroke="#3c3c3c" stroke-width="0.9"/>
<rect x="431.2" y="55.9" width="3.8" height="3.8" fill="#fff" stroke="#3c3c3c" stroke-width="0.9"/>
<rect x="434.7" y="55.7" width="3.8" height="3.8" fill="#fff" stroke="#3c3c3c" stroke-width="0.9"/>
<rect x="438.2" y="55.6" width="3.8" height="3.8" fill="#fff" stroke="#3c3c3c" stroke-width="0.9"/>
<rect x="441.8" y="55.4" width="3.8" height="3.8" fill="#fff" stroke="#3c3c3c" stroke-width="0.9"/>
<rect x="445.3" y="55.2" width="3.8" height="3.8" fill="#fff" stroke="#3c3c3c" stroke-width="0.9"/>
<rect x="448.8" y="55.1" width="3.8" height="3.8" fill="#fff" stroke="#3c3c3c" stroke-width="0.9"/>
<rect x="452.4" y="55.4" width="3.8" height="3.8" fill="#fff" stroke="#3c3c3c" stroke-width="0.9"/>
<rect x="455.9" y="55.7" width="3.8" height="3.8" fill="#fff" stroke="#3c3c3c" stroke-width="0.9"/>
<rect x="459.4" y="56.1" width="3.8" height="3.8" fill="#fff" stroke="#3c3c3c" stroke-width="0.9"/>
<rect x="463.0" y="56.4" width="3.8" height="3.8" fill="#fff" stroke="#3c3c3c" stroke-width="0.9"/>
<rect x="466.5" y="56.7" width="3.8" height="3.8" fill="#fff" stroke="#3c3c3c" stroke-width="0.9"/>
<rect x="470.0" y="57.2" width="3.8" height="3.8" fill="#fff" stroke="#3c3c3c" stroke-width="0.9"/>
<rect x="473.6" y="58.1" width="3.8" height="3.8" fill="#fff" stroke="#3c3c3c" stroke-width="0.9"/>
<rect x="477.1" y="58.9" width="3.8" height="3.8" fill="#fff" stroke="#3c3c3c" stroke-width="0.9"/>
<rect x="480.6" y="59.8" width="3.8" height="3.8" fill="#fff" stroke="#3c3c3c" stroke-width="0.9"/>
<rect x="484.1" y="60.6" width="3.8" height="3.8" fill="#fff" stroke="#3c3c3c" stroke-width="0.9"/>
<rect x="487.7" y="61.5" width="3.8" height="3.8" fill="#fff" stroke="#3c3c3c" stroke-width="0.9"/>
<rect x="491.2" y="62.3" width="3.8" height="3.8" fill="#fff" stroke="#3c3c3c" stroke-width="0.9"/>
<path d="M298.9 188.2V189.8M297.1 188.2H300.8M297.1 189.8H300.8" stroke="#eaa494" stroke-width="0.7" fill="none"/>
<path d="M302.5 168.1V169.9M300.6 168.1H304.4M300.6 169.9H304.4" stroke="#eaa494" stroke-width="0.7" fill="none"/>
<path d="M306.0 146.1V147.9M304.1 146.1H307.9M304.1 147.9H307.9" stroke="#eaa494" stroke-width="0.7" fill="none"/>
<path d="M309.5 119.4V121.4M307.6 119.4H311.4M307.6 121.4H311.4" stroke="#eaa494" stroke-width="0.7" fill="none"/>
<path d="M313.1 105.7V107.9M311.2 105.7H315.0M311.2 107.9H315.0" stroke="#eaa494" stroke-width="0.7" fill="none"/>
<path d="M316.6 102.8V105.2M314.7 102.8H318.5M314.7 105.2H318.5" stroke="#eaa494" stroke-width="0.7" fill="none"/>
<path d="M320.1 99.8V102.4M318.2 99.8H322.0M318.2 102.4H322.0" stroke="#eaa494" stroke-width="0.7" fill="none"/>
<path d="M323.7 96.5V99.3M321.8 96.5H325.6M321.8 99.3H325.6" stroke="#eaa494" stroke-width="0.7" fill="none"/>
<path d="M327.2 93.0V96.0M325.3 93.0H329.1M325.3 96.0H329.1" stroke="#eaa494" stroke-width="0.7" fill="none"/>
<path d="M330.7 89.4V92.6M328.8 89.4H332.6M328.8 92.6H332.6" stroke="#eaa494" stroke-width="0.7" fill="none"/>
<path d="M334.2 87.0V90.4M332.4 87.0H336.1M332.4 90.4H336.1" stroke="#eaa494" stroke-width="0.7" fill="none"/>
<path d="M337.8 84.5V88.1M335.9 84.5H339.7M335.9 88.1H339.7" stroke="#eaa494" stroke-width="0.7" fill="none"/>
<path d="M341.3 82.1V85.9M339.4 82.1H343.2M339.4 85.9H343.2" stroke="#eaa494" stroke-width="0.7" fill="none"/>
<path d="M344.8 81.3V85.3M342.9 81.3H346.7M342.9 85.3H346.7" stroke="#eaa494" stroke-width="0.7" fill="none"/>
<path d="M348.4 79.3V86.3M346.5 79.3H350.3M346.5 86.3H350.3" stroke="#eaa494" stroke-width="0.7" fill="none"/>
<path d="M351.9 78.5V88.5M350.0 78.5H353.8M350.0 88.5H353.8" stroke="#eaa494" stroke-width="0.7" fill="none"/>
<path d="M355.4 79.6V92.6M353.5 79.6H357.3M353.5 92.6H357.3" stroke="#eaa494" stroke-width="0.7" fill="none"/>
<path d="M359.0 80.7V96.3M357.1 80.7H360.9M357.1 96.3H360.9" stroke="#eaa494" stroke-width="0.7" fill="none"/>
<path d="M362.5 80.8V99.2M360.6 80.8H364.4M360.6 99.2H364.4" stroke="#eaa494" stroke-width="0.7" fill="none"/>
<path d="M366.0 81.0V102.0M364.1 81.0H367.9M364.1 102.0H367.9" stroke="#eaa494" stroke-width="0.7" fill="none"/>
<path d="M369.6 79.0V103.0M367.7 79.0H371.4M367.7 103.0H371.4" stroke="#eaa494" stroke-width="0.7" fill="none"/>
<path d="M373.1 77.0V104.0M371.2 77.0H375.0M371.2 104.0H375.0" stroke="#eaa494" stroke-width="0.7" fill="none"/>
<path d="M376.6 75.6V102.8M374.7 75.6H378.5M374.7 102.8H378.5" stroke="#eaa494" stroke-width="0.7" fill="none"/>
<path d="M380.1 74.2V101.7M378.2 74.2H382.0M378.2 101.7H382.0" stroke="#eaa494" stroke-width="0.7" fill="none"/>
<path d="M383.7 72.8V100.5M381.8 72.8H385.6M381.8 100.5H385.6" stroke="#eaa494" stroke-width="0.7" fill="none"/>
<path d="M387.2 71.3V99.3M385.3 71.3H389.1M385.3 99.3H389.1" stroke="#eaa494" stroke-width="0.7" fill="none"/>
<path d="M390.7 70.3V97.9M388.8 70.3H392.6M388.8 97.9H392.6" stroke="#eaa494" stroke-width="0.7" fill="none"/>
<path d="M394.3 69.2V96.6M392.4 69.2H396.2M392.4 96.6H396.2" stroke="#eaa494" stroke-width="0.7" fill="none"/>
<path d="M397.8 68.2V95.2M395.9 68.2H399.7M395.9 95.2H399.7" stroke="#eaa494" stroke-width="0.7" fill="none"/>
<path d="M401.3 67.2V93.9M399.4 67.2H403.2M399.4 93.9H403.2" stroke="#eaa494" stroke-width="0.7" fill="none"/>
<path d="M404.9 66.2V92.5M403.0 66.2H406.8M403.0 92.5H406.8" stroke="#eaa494" stroke-width="0.7" fill="none"/>
<path d="M408.4 65.4V91.4M406.5 65.4H410.3M406.5 91.4H410.3" stroke="#eaa494" stroke-width="0.7" fill="none"/>
<path d="M411.9 64.7V90.5M410.0 64.7H413.8M410.0 90.5H413.8" stroke="#eaa494" stroke-width="0.7" fill="none"/>
<path d="M415.4 64.0V89.5M413.5 64.0H417.3M413.5 89.5H417.3" stroke="#eaa494" stroke-width="0.7" fill="none"/>
<path d="M419.0 63.3V88.6M417.1 63.3H420.9M417.1 88.6H420.9" stroke="#eaa494" stroke-width="0.7" fill="none"/>
<path d="M422.5 62.6V87.6M420.6 62.6H424.4M420.6 87.6H424.4" stroke="#eaa494" stroke-width="0.7" fill="none"/>
<path d="M426.0 61.9V86.7M424.1 61.9H427.9M424.1 86.7H427.9" stroke="#eaa494" stroke-width="0.7" fill="none"/>
<path d="M429.6 61.2V85.7M427.7 61.2H431.5M427.7 85.7H431.5" stroke="#eaa494" stroke-width="0.7" fill="none"/>
<path d="M433.1 60.8V85.1M431.2 60.8H435.0M431.2 85.1H435.0" stroke="#eaa494" stroke-width="0.7" fill="none"/>
<path d="M436.6 60.5V84.5M434.7 60.5H438.5M434.7 84.5H438.5" stroke="#eaa494" stroke-width="0.7" fill="none"/>
<path d="M440.1 60.0V83.7M438.2 60.0H442.0M438.2 83.7H442.0" stroke="#eaa494" stroke-width="0.7" fill="none"/>
<path d="M443.7 59.6V83.0M441.8 59.6H445.6M441.8 83.0H445.6" stroke="#eaa494" stroke-width="0.7" fill="none"/>
<path d="M447.2 59.2V82.2M445.3 59.2H449.1M445.3 82.2H449.1" stroke="#eaa494" stroke-width="0.7" fill="none"/>
<path d="M450.7 58.8V81.5M448.8 58.8H452.6M448.8 81.5H452.6" stroke="#eaa494" stroke-width="0.7" fill="none"/>
<path d="M454.3 58.3V80.8M452.4 58.3H456.2M452.4 80.8H456.2" stroke="#eaa494" stroke-width="0.7" fill="none"/>
<path d="M457.8 57.9V80.0M455.9 57.9H459.7M455.9 80.0H459.7" stroke="#eaa494" stroke-width="0.7" fill="none"/>
<path d="M461.3 57.4V79.2M459.4 57.4H463.2M459.4 79.2H463.2" stroke="#eaa494" stroke-width="0.7" fill="none"/>
<path d="M464.9 57.0V78.5M463.0 57.0H466.8M463.0 78.5H466.8" stroke="#eaa494" stroke-width="0.7" fill="none"/>
<path d="M468.4 56.4V77.8M466.5 56.4H470.3M466.5 77.8H470.3" stroke="#eaa494" stroke-width="0.7" fill="none"/>
<path d="M471.9 55.9V77.0M470.0 55.9H473.8M470.0 77.0H473.8" stroke="#eaa494" stroke-width="0.7" fill="none"/>
<path d="M475.4 55.4V76.4M473.6 55.4H477.3M473.6 76.4H477.3" stroke="#eaa494" stroke-width="0.7" fill="none"/>
<path d="M479.0 54.9V75.7M477.1 54.9H480.9M477.1 75.7H480.9" stroke="#eaa494" stroke-width="0.7" fill="none"/>
<path d="M482.5 54.5V75.0M480.6 54.5H484.4M480.6 75.0H484.4" stroke="#eaa494" stroke-width="0.7" fill="none"/>
<path d="M486.0 54.0V74.3M484.1 54.0H487.9M484.1 74.3H487.9" stroke="#eaa494" stroke-width="0.7" fill="none"/>
<path d="M489.6 53.5V73.7M487.7 53.5H491.5M487.7 73.7H491.5" stroke="#eaa494" stroke-width="0.7" fill="none"/>
<path d="M493.1 53.0V73.0M491.2 53.0H495.0M491.2 73.0H495.0" stroke="#eaa494" stroke-width="0.7" fill="none"/>
<polyline points="281.3,219.8 284.8,217.9 288.4,216.0 291.9,213.0 295.4,205.0 298.9,189.0 302.5,169.0 306.0,147.0 309.5,120.4 313.1,106.8 316.6,104.0 320.1,101.1 323.7,97.9 327.2,94.5 330.7,91.0 334.2,88.7 337.8,86.3 341.3,84.0 344.8,83.3 348.4,82.6 351.9,83.2 355.4,85.6 359.0,88.0 362.5,89.5 366.0,91.0 369.6,90.0 373.1,89.0 376.6,87.3 380.1,85.7 383.7,84.0 387.2,82.3 390.7,80.9 394.3,79.6 397.8,78.2 401.3,76.9 404.9,75.5 408.4,74.4 411.9,73.5 415.4,72.5 419.0,71.6 422.5,70.6 426.0,69.7 429.6,68.7 433.1,68.1 436.6,67.5 440.1,66.8 443.7,66.2 447.2,65.6 450.7,65.0 454.3,64.4 457.8,63.8 461.3,63.1 464.9,62.5 468.4,61.9 471.9,61.3 475.4,60.7 479.0,60.2 482.5,59.6 486.0,59.1 489.6,58.5 493.1,58.0" fill="none" stroke="#e9a898" stroke-width="0.7" stroke-linejoin="round" />
<circle cx="281.3" cy="219.8" r="1.8" fill="#f9d6cc" stroke="#e8a090" stroke-width="0.9"/>
<circle cx="284.8" cy="217.9" r="1.8" fill="#f9d6cc" stroke="#e8a090" stroke-width="0.9"/>
<circle cx="288.4" cy="216.0" r="1.8" fill="#f9d6cc" stroke="#e8a090" stroke-width="0.9"/>
<circle cx="291.9" cy="213.0" r="1.8" fill="#f9d6cc" stroke="#e8a090" stroke-width="0.9"/>
<circle cx="295.4" cy="205.0" r="1.8" fill="#f9d6cc" stroke="#e8a090" stroke-width="0.9"/>
<circle cx="298.9" cy="189.0" r="1.8" fill="#f9d6cc" stroke="#e8a090" stroke-width="0.9"/>
<circle cx="302.5" cy="169.0" r="1.8" fill="#f9d6cc" stroke="#e8a090" stroke-width="0.9"/>
<circle cx="306.0" cy="147.0" r="1.8" fill="#f9d6cc" stroke="#e8a090" stroke-width="0.9"/>
<circle cx="309.5" cy="120.4" r="1.8" fill="#f9d6cc" stroke="#e8a090" stroke-width="0.9"/>
<circle cx="313.1" cy="106.8" r="1.8" fill="#f9d6cc" stroke="#e8a090" stroke-width="0.9"/>
<circle cx="316.6" cy="104.0" r="1.8" fill="#f9d6cc" stroke="#e8a090" stroke-width="0.9"/>
<circle cx="320.1" cy="101.1" r="1.8" fill="#f9d6cc" stroke="#e8a090" stroke-width="0.9"/>
<circle cx="323.7" cy="97.9" r="1.8" fill="#f9d6cc" stroke="#e8a090" stroke-width="0.9"/>
<circle cx="327.2" cy="94.5" r="1.8" fill="#f9d6cc" stroke="#e8a090" stroke-width="0.9"/>
<circle cx="330.7" cy="91.0" r="1.8" fill="#f9d6cc" stroke="#e8a090" stroke-width="0.9"/>
<circle cx="334.2" cy="88.7" r="1.8" fill="#f9d6cc" stroke="#e8a090" stroke-width="0.9"/>
<circle cx="337.8" cy="86.3" r="1.8" fill="#f9d6cc" stroke="#e8a090" stroke-width="0.9"/>
<circle cx="341.3" cy="84.0" r="1.8" fill="#f9d6cc" stroke="#e8a090" stroke-width="0.9"/>
<circle cx="344.8" cy="83.3" r="1.9" fill="#fff" stroke="#e59a8a" stroke-width="0.8"/>
<circle cx="348.4" cy="82.6" r="1.9" fill="#fff" stroke="#e59a8a" stroke-width="0.8"/>
<circle cx="351.9" cy="83.2" r="1.9" fill="#fff" stroke="#e59a8a" stroke-width="0.8"/>
<circle cx="355.4" cy="85.6" r="1.8" fill="#fff" stroke="#eeb0a2" stroke-width="0.7"/>
<circle cx="359.0" cy="88.0" r="1.8" fill="#fff" stroke="#eeb0a2" stroke-width="0.7"/>
<circle cx="362.5" cy="89.5" r="1.8" fill="#fff" stroke="#eeb0a2" stroke-width="0.7"/>
<circle cx="366.0" cy="91.0" r="1.8" fill="#fff" stroke="#eeb0a2" stroke-width="0.7"/>
<circle cx="369.6" cy="90.0" r="1.8" fill="#fff" stroke="#eeb0a2" stroke-width="0.7"/>
<circle cx="373.1" cy="89.0" r="1.8" fill="#fff" stroke="#eeb0a2" stroke-width="0.7"/>
<circle cx="376.6" cy="87.3" r="1.8" fill="#fff" stroke="#eeb0a2" stroke-width="0.7"/>
<circle cx="380.1" cy="85.7" r="1.8" fill="#fff" stroke="#eeb0a2" stroke-width="0.7"/>
<circle cx="383.7" cy="84.0" r="1.8" fill="#fff" stroke="#eeb0a2" stroke-width="0.7"/>
<circle cx="387.2" cy="82.3" r="1.8" fill="#fff" stroke="#eeb0a2" stroke-width="0.7"/>
<circle cx="390.7" cy="80.9" r="1.8" fill="#fff" stroke="#eeb0a2" stroke-width="0.7"/>
<circle cx="394.3" cy="79.6" r="1.8" fill="#fff" stroke="#eeb0a2" stroke-width="0.7"/>
<circle cx="397.8" cy="78.2" r="1.8" fill="#fff" stroke="#eeb0a2" stroke-width="0.7"/>
<circle cx="401.3" cy="76.9" r="1.8" fill="#fff" stroke="#eeb0a2" stroke-width="0.7"/>
<circle cx="404.9" cy="75.5" r="1.8" fill="#fff" stroke="#eeb0a2" stroke-width="0.7"/>
<circle cx="408.4" cy="74.4" r="1.8" fill="#fff" stroke="#eeb0a2" stroke-width="0.7"/>
<circle cx="411.9" cy="73.5" r="1.8" fill="#fff" stroke="#eeb0a2" stroke-width="0.7"/>
<circle cx="415.4" cy="72.5" r="1.8" fill="#fff" stroke="#eeb0a2" stroke-width="0.7"/>
<circle cx="419.0" cy="71.6" r="1.8" fill="#fff" stroke="#eeb0a2" stroke-width="0.7"/>
<circle cx="422.5" cy="70.6" r="1.8" fill="#fff" stroke="#eeb0a2" stroke-width="0.7"/>
<circle cx="426.0" cy="69.7" r="1.8" fill="#fff" stroke="#eeb0a2" stroke-width="0.7"/>
<circle cx="429.6" cy="68.7" r="1.8" fill="#fff" stroke="#eeb0a2" stroke-width="0.7"/>
<circle cx="433.1" cy="68.1" r="1.8" fill="#fff" stroke="#eeb0a2" stroke-width="0.7"/>
<circle cx="436.6" cy="67.5" r="1.8" fill="#fff" stroke="#eeb0a2" stroke-width="0.7"/>
<circle cx="440.1" cy="66.8" r="1.8" fill="#fff" stroke="#eeb0a2" stroke-width="0.7"/>
<circle cx="443.7" cy="66.2" r="1.8" fill="#fff" stroke="#eeb0a2" stroke-width="0.7"/>
<circle cx="447.2" cy="65.6" r="1.8" fill="#fff" stroke="#eeb0a2" stroke-width="0.7"/>
<circle cx="450.7" cy="65.0" r="1.8" fill="#fff" stroke="#eeb0a2" stroke-width="0.7"/>
<circle cx="454.3" cy="64.4" r="1.8" fill="#fff" stroke="#eeb0a2" stroke-width="0.7"/>
<circle cx="457.8" cy="63.8" r="1.8" fill="#fff" stroke="#eeb0a2" stroke-width="0.7"/>
<circle cx="461.3" cy="63.1" r="1.8" fill="#fff" stroke="#eeb0a2" stroke-width="0.7"/>
<circle cx="464.9" cy="62.5" r="1.8" fill="#fff" stroke="#eeb0a2" stroke-width="0.7"/>
<circle cx="468.4" cy="61.9" r="1.8" fill="#fff" stroke="#eeb0a2" stroke-width="0.7"/>
<circle cx="471.9" cy="61.3" r="1.8" fill="#fff" stroke="#eeb0a2" stroke-width="0.7"/>
<circle cx="475.4" cy="60.7" r="1.8" fill="#fff" stroke="#eeb0a2" stroke-width="0.7"/>
<circle cx="479.0" cy="60.2" r="1.8" fill="#fff" stroke="#eeb0a2" stroke-width="0.7"/>
<circle cx="482.5" cy="59.6" r="1.8" fill="#fff" stroke="#eeb0a2" stroke-width="0.7"/>
<circle cx="486.0" cy="59.1" r="1.8" fill="#fff" stroke="#eeb0a2" stroke-width="0.7"/>
<circle cx="489.6" cy="58.5" r="1.8" fill="#fff" stroke="#eeb0a2" stroke-width="0.7"/>
<circle cx="493.1" cy="58.0" r="1.8" fill="#fff" stroke="#eeb0a2" stroke-width="0.7"/>
<rect x="360.2" y="210.8" width="4.6" height="4.6" fill="#0a0a0a" stroke="none" stroke-width="1"/>
<rect x="363.7" y="206.9" width="4.6" height="4.6" fill="#0a0a0a" stroke="none" stroke-width="1"/>
<rect x="367.2" y="201.2" width="4.6" height="4.6" fill="#0a0a0a" stroke="none" stroke-width="1"/>
<rect x="370.8" y="195.5" width="4.6" height="4.6" fill="#0a0a0a" stroke="none" stroke-width="1"/>
<rect x="374.3" y="185.9" width="4.6" height="4.6" fill="#0a0a0a" stroke="none" stroke-width="1"/>
<rect x="377.8" y="175.4" width="4.6" height="4.6" fill="#0a0a0a" stroke="none" stroke-width="1"/>
<rect x="381.4" y="165.7" width="4.6" height="4.6" fill="#0a0a0a" stroke="none" stroke-width="1"/>
<rect x="384.9" y="155.3" width="4.6" height="4.6" fill="#0a0a0a" stroke="none" stroke-width="1"/>
<rect x="388.4" y="146.3" width="4.6" height="4.6" fill="#0a0a0a" stroke="none" stroke-width="1"/>
<rect x="392.0" y="140.5" width="4.6" height="4.6" fill="#0a0a0a" stroke="none" stroke-width="1"/>
<rect x="395.5" y="134.0" width="4.6" height="4.6" fill="#0a0a0a" stroke="none" stroke-width="1"/>
<rect x="399.0" y="127.5" width="4.6" height="4.6" fill="#0a0a0a" stroke="none" stroke-width="1"/>
<rect x="402.6" y="120.8" width="4.6" height="4.6" fill="#0a0a0a" stroke="none" stroke-width="1"/>
<rect x="406.1" y="112.3" width="4.6" height="4.6" fill="#0a0a0a" stroke="none" stroke-width="1"/>
<rect x="409.6" y="106.0" width="4.6" height="4.6" fill="#0a0a0a" stroke="none" stroke-width="1"/>
<rect x="413.1" y="100.8" width="4.6" height="4.6" fill="#0a0a0a" stroke="none" stroke-width="1"/>
<rect x="416.7" y="98.2" width="4.6" height="4.6" fill="#0a0a0a" stroke="none" stroke-width="1"/>
<rect x="420.2" y="96.5" width="4.6" height="4.6" fill="#0a0a0a" stroke="none" stroke-width="1"/>
<rect x="423.7" y="95.2" width="4.6" height="4.6" fill="#0a0a0a" stroke="none" stroke-width="1"/>
<rect x="427.3" y="89.7" width="4.6" height="4.6" fill="#0a0a0a" stroke="none" stroke-width="1"/>
<rect x="430.8" y="85.3" width="4.6" height="4.6" fill="#0a0a0a" stroke="none" stroke-width="1"/>
<rect x="434.3" y="82.3" width="4.6" height="4.6" fill="#0a0a0a" stroke="none" stroke-width="1"/>
<rect x="437.8" y="80.2" width="4.6" height="4.6" fill="#0a0a0a" stroke="none" stroke-width="1"/>
<rect x="441.4" y="78.4" width="4.6" height="4.6" fill="#0a0a0a" stroke="none" stroke-width="1"/>
<rect x="444.9" y="76.9" width="4.6" height="4.6" fill="#0a0a0a" stroke="none" stroke-width="1"/>
<rect x="448.4" y="75.4" width="4.6" height="4.6" fill="#0a0a0a" stroke="none" stroke-width="1"/>
<rect x="452.0" y="74.4" width="4.6" height="4.6" fill="#0a0a0a" stroke="none" stroke-width="1"/>
<rect x="455.5" y="73.3" width="4.6" height="4.6" fill="#0a0a0a" stroke="none" stroke-width="1"/>
<rect x="459.0" y="72.5" width="4.6" height="4.6" fill="#0a0a0a" stroke="none" stroke-width="1"/>
<rect x="462.6" y="71.9" width="4.6" height="4.6" fill="#0a0a0a" stroke="none" stroke-width="1"/>
<rect x="466.1" y="71.3" width="4.6" height="4.6" fill="#0a0a0a" stroke="none" stroke-width="1"/>
<rect x="469.6" y="70.8" width="4.6" height="4.6" fill="#0a0a0a" stroke="none" stroke-width="1"/>
<rect x="473.1" y="70.5" width="4.6" height="4.6" fill="#0a0a0a" stroke="none" stroke-width="1"/>
<rect x="476.7" y="70.2" width="4.6" height="4.6" fill="#0a0a0a" stroke="none" stroke-width="1"/>
<rect x="480.2" y="70.0" width="4.6" height="4.6" fill="#0a0a0a" stroke="none" stroke-width="1"/>
<rect x="483.7" y="69.8" width="4.6" height="4.6" fill="#0a0a0a" stroke="none" stroke-width="1"/>
<rect x="487.3" y="69.6" width="4.6" height="4.6" fill="#0a0a0a" stroke="none" stroke-width="1"/>
<rect x="490.8" y="69.4" width="4.6" height="4.6" fill="#0a0a0a" stroke="none" stroke-width="1"/>
<circle cx="291.9" cy="216.8" r="2.4" fill="#cc220e" stroke="none" stroke-width="1"/>
<circle cx="295.4" cy="216.2" r="2.4" fill="#cc220e" stroke="none" stroke-width="1"/>
<circle cx="298.9" cy="216.2" r="2.4" fill="#cc220e" stroke="none" stroke-width="1"/>
<circle cx="302.5" cy="216.1" r="2.4" fill="#cc220e" stroke="none" stroke-width="1"/>
<circle cx="306.0" cy="216.1" r="2.4" fill="#cc220e" stroke="none" stroke-width="1"/>
<circle cx="309.5" cy="216.1" r="2.4" fill="#cc220e" stroke="none" stroke-width="1"/>
<circle cx="313.1" cy="216.0" r="2.4" fill="#cc220e" stroke="none" stroke-width="1"/>
<circle cx="316.6" cy="216.0" r="2.4" fill="#cc220e" stroke="none" stroke-width="1"/>
<circle cx="320.1" cy="216.0" r="2.4" fill="#cc220e" stroke="none" stroke-width="1"/>
<circle cx="323.7" cy="216.0" r="2.4" fill="#cc220e" stroke="none" stroke-width="1"/>
<circle cx="327.2" cy="216.1" r="2.4" fill="#cc220e" stroke="none" stroke-width="1"/>
<circle cx="330.7" cy="216.1" r="2.4" fill="#cc220e" stroke="none" stroke-width="1"/>
<circle cx="334.2" cy="216.1" r="2.4" fill="#cc220e" stroke="none" stroke-width="1"/>
<circle cx="337.8" cy="216.1" r="2.4" fill="#cc220e" stroke="none" stroke-width="1"/>
<circle cx="341.3" cy="216.1" r="2.4" fill="#cc220e" stroke="none" stroke-width="1"/>
<circle cx="344.8" cy="216.2" r="2.4" fill="#cc220e" stroke="none" stroke-width="1"/>
<circle cx="348.4" cy="216.2" r="2.4" fill="#cc220e" stroke="none" stroke-width="1"/>
<circle cx="351.9" cy="216.2" r="2.4" fill="#cc220e" stroke="none" stroke-width="1"/>
<circle cx="355.4" cy="216.2" r="2.4" fill="#cc220e" stroke="none" stroke-width="1"/>
<circle cx="359.0" cy="216.2" r="2.4" fill="#cc220e" stroke="none" stroke-width="1"/>
<circle cx="362.5" cy="216.2" r="2.4" fill="#cc220e" stroke="none" stroke-width="1"/>
<circle cx="366.0" cy="216.2" r="2.4" fill="#cc220e" stroke="none" stroke-width="1"/>
<circle cx="369.6" cy="216.2" r="2.4" fill="#cc220e" stroke="none" stroke-width="1"/>
<circle cx="373.1" cy="216.2" r="2.4" fill="#cc220e" stroke="none" stroke-width="1"/>
<circle cx="376.6" cy="216.2" r="2.4" fill="#cc220e" stroke="none" stroke-width="1"/>
<circle cx="380.1" cy="216.2" r="2.4" fill="#cc220e" stroke="none" stroke-width="1"/>
<circle cx="383.7" cy="216.2" r="2.4" fill="#cc220e" stroke="none" stroke-width="1"/>
<circle cx="387.2" cy="216.2" r="2.4" fill="#cc220e" stroke="none" stroke-width="1"/>
<circle cx="390.7" cy="216.2" r="2.4" fill="#cc220e" stroke="none" stroke-width="1"/>
<circle cx="394.3" cy="216.2" r="2.4" fill="#cc220e" stroke="none" stroke-width="1"/>
<circle cx="397.8" cy="216.1" r="2.4" fill="#cc220e" stroke="none" stroke-width="1"/>
<circle cx="401.3" cy="216.1" r="2.4" fill="#cc220e" stroke="none" stroke-width="1"/>
<circle cx="404.9" cy="216.1" r="2.4" fill="#cc220e" stroke="none" stroke-width="1"/>
<circle cx="408.4" cy="216.1" r="2.4" fill="#cc220e" stroke="none" stroke-width="1"/>
<circle cx="411.9" cy="216.1" r="2.4" fill="#cc220e" stroke="none" stroke-width="1"/>
<circle cx="415.4" cy="216.0" r="2.4" fill="#cc220e" stroke="none" stroke-width="1"/>
<circle cx="419.0" cy="216.0" r="2.4" fill="#cc220e" stroke="none" stroke-width="1"/>
<circle cx="422.5" cy="216.0" r="2.4" fill="#cc220e" stroke="none" stroke-width="1"/>
<circle cx="426.0" cy="215.8" r="2.4" fill="#cc220e" stroke="none" stroke-width="1"/>
<circle cx="429.6" cy="215.6" r="2.4" fill="#cc220e" stroke="none" stroke-width="1"/>
<circle cx="433.1" cy="215.4" r="2.4" fill="#cc220e" stroke="none" stroke-width="1"/>
<circle cx="436.6" cy="215.2" r="2.4" fill="#cc220e" stroke="none" stroke-width="1"/>
<line x1="285.5" y1="11.6" x2="302.5" y2="11.6" stroke="#9a9a9a" stroke-width="0.8" />
<rect x="291.8" y="9.4" width="4.4" height="4.4" fill="#0a0a0a" stroke="none" stroke-width="1"/>
<text x="307.5" y="15.1" font-size="13.2" text-anchor="start" font-family="Liberation Serif, serif" font-weight="bold" fill="#141414" stroke="#141414" stroke-width="0.42" textLength="89.0" lengthAdjust="spacingAndGlyphs" >wt + 0.4 µg/ml CEF</text>
<line x1="285.5" y1="26.0" x2="302.5" y2="26.0" stroke="#eaa" stroke-width="0.8" />
<circle cx="294.0" cy="26.0" r="2.3" fill="#cc220e" stroke="none" stroke-width="1"/>
<text x="307.5" y="29.4" font-size="13.2" text-anchor="start" font-family="Liberation Serif, serif" font-weight="bold" fill="#141414" stroke="#141414" stroke-width="0.42" textLength="101.5" lengthAdjust="spacingAndGlyphs" ><tspan font-style="italic">Δnos</tspan> + 0.4 µg/ml CEF</text>
<line x1="285.5" y1="40.4" x2="302.5" y2="40.4" stroke="#9a9a9a" stroke-width="0.8" />
<rect x="292.0" y="38.4" width="4.0" height="4.0" fill="#fff" stroke="#777" stroke-width="0.8"/>
<text x="307.5" y="42.8" font-size="13.2" text-anchor="start" font-family="Liberation Serif, serif" font-weight="bold" fill="#141414" stroke="#141414" stroke-width="0.42" textLength="12.5" lengthAdjust="spacingAndGlyphs" >wt</text>
<line x1="285.5" y1="54.9" x2="302.5" y2="54.9" stroke="#eaa" stroke-width="0.8" />
<circle cx="294.0" cy="54.9" r="2.1" fill="#fff" stroke="#e59a8a" stroke-width="0.8"/>
<text x="307.5" y="57.5" font-size="13.2" text-anchor="start" font-family="Liberation Serif, serif" font-weight="bold" fill="#141414" stroke="#141414" stroke-width="0.42" textLength="24.5" lengthAdjust="spacingAndGlyphs" ><tspan font-style="italic">Δnos</tspan></text>
<line x1="598.6" y1="41.5" x2="598.6" y2="222.9" stroke="#141414" stroke-width="1.9" />
<line x1="597.6" y1="222.0" x2="823.5" y2="222.0" stroke="#141414" stroke-width="1.9" />
<line x1="593.8" y1="46.7" x2="598.6" y2="46.7" stroke="#141414" stroke-width="1.5" />
<line x1="593.8" y1="100.0" x2="598.6" y2="100.0" stroke="#141414" stroke-width="1.5" />
<line x1="593.8" y1="153.3" x2="598.6" y2="153.3" stroke="#141414" stroke-width="1.5" />
<line x1="593.8" y1="206.6" x2="598.6" y2="206.6" stroke="#141414" stroke-width="1.5" />
<line x1="595.9" y1="190.6" x2="598.6" y2="190.6" stroke="#141414" stroke-width="1.1" />
<line x1="595.9" y1="181.2" x2="598.6" y2="181.2" stroke="#141414" stroke-width="1.1" />
<line x1="595.9" y1="174.5" x2="598.6" y2="174.5" stroke="#141414" stroke-width="1.1" />
<line x1="595.9" y1="169.3" x2="598.6" y2="169.3" stroke="#141414" stroke-width="1.1" />
<line x1="595.9" y1="165.1" x2="598.6" y2="165.1" stroke="#141414" stroke-width="1.1" />
<line x1="595.9" y1="161.6" x2="598.6" y2="161.6" stroke="#141414" stroke-width="1.1" />
<line x1="595.9" y1="158.5" x2="598.6" y2="158.5" stroke="#141414" stroke-width="1.1" />
<line x1="595.9" y1="155.7" x2="598.6" y2="155.7" stroke="#141414" stroke-width="1.1" />
<line x1="595.9" y1="137.3" x2="598.6" y2="137.3" stroke="#141414" stroke-width="1.1" />
<line x1="595.9" y1="127.9" x2="598.6" y2="127.9" stroke="#141414" stroke-width="1.1" />
<line x1="595.9" y1="121.2" x2="598.6" y2="121.2" stroke="#141414" stroke-width="1.1" />
<line x1="595.9" y1="116.0" x2="598.6" y2="116.0" stroke="#141414" stroke-width="1.1" />
<line x1="595.9" y1="111.8" x2="598.6" y2="111.8" stroke="#141414" stroke-width="1.1" />
<line x1="595.9" y1="108.3" x2="598.6" y2="108.3" stroke="#141414" stroke-width="1.1" />
<line x1="595.9" y1="105.2" x2="598.6" y2="105.2" stroke="#141414" stroke-width="1.1" />
<line x1="595.9" y1="102.4" x2="598.6" y2="102.4" stroke="#141414" stroke-width="1.1" />
<line x1="595.9" y1="84.0" x2="598.6" y2="84.0" stroke="#141414" stroke-width="1.1" />
<line x1="595.9" y1="74.6" x2="598.6" y2="74.6" stroke="#141414" stroke-width="1.1" />
<line x1="595.9" y1="67.9" x2="598.6" y2="67.9" stroke="#141414" stroke-width="1.1" />
<line x1="595.9" y1="62.7" x2="598.6" y2="62.7" stroke="#141414" stroke-width="1.1" />
<line x1="595.9" y1="58.5" x2="598.6" y2="58.5" stroke="#141414" stroke-width="1.1" />
<line x1="595.9" y1="55.0" x2="598.6" y2="55.0" stroke="#141414" stroke-width="1.1" />
<line x1="595.9" y1="51.9" x2="598.6" y2="51.9" stroke="#141414" stroke-width="1.1" />
<line x1="595.9" y1="49.1" x2="598.6" y2="49.1" stroke="#141414" stroke-width="1.1" />
<line x1="595.9" y1="218.4" x2="598.6" y2="218.4" stroke="#141414" stroke-width="1.1" />
<line x1="595.9" y1="214.9" x2="598.6" y2="214.9" stroke="#141414" stroke-width="1.1" />
<line x1="595.9" y1="211.8" x2="598.6" y2="211.8" stroke="#141414" stroke-width="1.1" />
<line x1="595.9" y1="209.0" x2="598.6" y2="209.0" stroke="#141414" stroke-width="1.1" />
<line x1="609.0" y1="222.0" x2="609.0" y2="226.3" stroke="#141414" stroke-width="1.5" />
<line x1="662.3" y1="222.0" x2="662.3" y2="226.3" stroke="#141414" stroke-width="1.5" />
<line x1="715.6" y1="222.0" x2="715.6" y2="226.3" stroke="#141414" stroke-width="1.5" />
<line x1="768.9" y1="222.0" x2="768.9" y2="226.3" stroke="#141414" stroke-width="1.5" />
<line x1="822.2" y1="222.0" x2="822.2" y2="226.3" stroke="#141414" stroke-width="1.5" />
<line x1="635.6" y1="222.0" x2="635.6" y2="224.7" stroke="#141414" stroke-width="1.2" />
<line x1="689.0" y1="222.0" x2="689.0" y2="224.7" stroke="#141414" stroke-width="1.2" />
<line x1="742.2" y1="222.0" x2="742.2" y2="224.7" stroke="#141414" stroke-width="1.2" />
<line x1="795.5" y1="222.0" x2="795.5" y2="224.7" stroke="#141414" stroke-width="1.2" />
<text x="593.9" y="49.7" font-size="12.7" text-anchor="end" font-family="Liberation Serif, serif" font-weight="bold" fill="#141414" stroke="#141414" stroke-width="0.42" textLength="17.0" lengthAdjust="spacingAndGlyphs" >100</text>
<text x="593.9" y="104.1" font-size="12.7" text-anchor="end" font-family="Liberation Serif, serif" font-weight="bold" fill="#141414" stroke="#141414" stroke-width="0.42" textLength="12.0" lengthAdjust="spacingAndGlyphs" >10</text>
<text x="593.2" y="156.9" font-size="12.5" text-anchor="end" font-family="Liberation Serif, serif" font-weight="bold" fill="#141414" stroke="#141414" stroke-width="0.42" >1</text>
<text x="593.4" y="210.8" font-size="12.5" text-anchor="end" font-family="Liberation Serif, serif" font-weight="bold" fill="#141414" stroke="#141414" stroke-width="0.42" textLength="14.5" lengthAdjust="spacingAndGlyphs" >0.1</text>
<text x="609.6" y="236.9" font-size="12" text-anchor="middle" font-family="Liberation Serif, serif" font-weight="bold" fill="#141414" stroke="#141414" stroke-width="0.42" textLength="5.6" lengthAdjust="spacingAndGlyphs" >0</text>
<text x="662.9" y="236.9" font-size="12" text-anchor="middle" font-family="Liberation Serif, serif" font-weight="bold" fill="#141414" stroke="#141414" stroke-width="0.42" textLength="5.6" lengthAdjust="spacingAndGlyphs" >1</text>
<text x="716.2" y="236.9" font-size="12" text-anchor="middle" font-family="Liberation Serif, serif" font-weight="bold" fill="#141414" stroke="#141414" stroke-width="0.42" textLength="5.6" lengthAdjust="spacingAndGlyphs" >2</text>
<text x="769.5" y="236.9" font-size="12" text-anchor="middle" font-family="Liberation Serif, serif" font-weight="bold" fill="#141414" stroke="#141414" stroke-width="0.42" textLength="5.6" lengthAdjust="spacingAndGlyphs" >3</text>
<text x="822.8" y="236.9" font-size="12" text-anchor="middle" font-family="Liberation Serif, serif" font-weight="bold" fill="#141414" stroke="#141414" stroke-width="0.42" textLength="5.6" lengthAdjust="spacingAndGlyphs" >4</text>
<text x="707.3" y="257.9" font-size="15" text-anchor="middle" font-family="Liberation Serif, serif" font-weight="bold" fill="#141414" stroke="#141414" stroke-width="0.42" textLength="69.0" lengthAdjust="spacingAndGlyphs" >time, hour</text>
<text transform="translate(570.3,139.4) rotate(-90)" font-size="13.8" text-anchor="middle" font-family="Liberation Serif, serif" font-weight="bold" fill="#141414" stroke="#141414" stroke-width="0.42" textLength="67.5" lengthAdjust="spacingAndGlyphs" >Survival, %</text>
<path d="M662.3 74.6V100.0M659.9 74.6H664.7M659.9 100.0H664.7" stroke="#8f8f8f" stroke-width="1.0" fill="none"/>
<path d="M715.6 139.7V158.5M713.2 139.7H718.0M713.2 158.5H718.0" stroke="#8f8f8f" stroke-width="1.0" fill="none"/>
<path d="M795.5 193.0V219.2M793.1 193.0H797.9M793.1 219.2H797.9" stroke="#8f8f8f" stroke-width="1.0" fill="none"/>
<path d="M662.3 44.5V62.7M659.7 44.5H664.9M659.7 62.7H664.9" stroke="#222" stroke-width="1.4" fill="none"/>
<path d="M715.6 84.0V105.2M713.0 84.0H718.2M713.0 105.2H718.2" stroke="#222" stroke-width="1.4" fill="none"/>
<path d="M795.5 107.3V145.5M792.9 107.3H798.1M792.9 145.5H798.1" stroke="#222" stroke-width="1.4" fill="none"/>
<polyline points="609.0,46.7 662.3,51.9 715.6,92.2 795.5,119.0" fill="none" stroke="#141414" stroke-width="1.5" stroke-linejoin="round" />
<polyline points="609.0,46.7 662.3,84.0 715.6,147.2 795.5,202.4" fill="none" stroke="#141414" stroke-width="1.5" stroke-linejoin="round" />
<rect x="606.6" y="44.3" width="4.8" height="4.8" fill="#fff" stroke="#222" stroke-width="1.0"/>
<rect x="659.9" y="49.5" width="4.8" height="4.8" fill="#fff" stroke="#222" stroke-width="1.0"/>
<rect x="713.2" y="89.8" width="4.8" height="4.8" fill="#fff" stroke="#222" stroke-width="1.0"/>
<rect x="793.1" y="116.6" width="4.8" height="4.8" fill="#fff" stroke="#222" stroke-width="1.0"/>
<circle cx="609.0" cy="46.7" r="2.8" fill="#fff" stroke="#222" stroke-width="1.0"/>
<circle cx="662.3" cy="84.0" r="2.8" fill="#fff" stroke="#222" stroke-width="1.0"/>
<circle cx="715.6" cy="147.2" r="2.8" fill="#fff" stroke="#222" stroke-width="1.0"/>
<circle cx="795.5" cy="202.4" r="2.8" fill="#fff" stroke="#222" stroke-width="1.0"/>
<rect x="753" y="45" width="50.6" height="30.5" fill="#fff" stroke="#a8a8a8" stroke-width="0.9"/>
<line x1="754.0" y1="54.1" x2="774.0" y2="54.1" stroke="#141414" stroke-width="1.4" />
<rect x="762.5" y="52.0" width="4.2" height="4.2" fill="#fff" stroke="#333" stroke-width="0.9"/>
<text x="778.0" y="56.8" font-size="14.2" text-anchor="start" font-family="Liberation Serif, serif" font-weight="bold" fill="#141414" stroke="#141414" stroke-width="0.42" textLength="12.3" lengthAdjust="spacingAndGlyphs" font-style="italic">wt</text>
<line x1="754.0" y1="69.8" x2="774.0" y2="69.8" stroke="#141414" stroke-width="1.4" />
<circle cx="764.6" cy="69.8" r="2.4" fill="#fff" stroke="#333" stroke-width="0.9"/>
<text x="778.0" y="72.8" font-size="14.2" text-anchor="start" font-family="Liberation Serif, serif" font-weight="bold" fill="#141414" stroke="#141414" stroke-width="0.42" textLength="25.8" lengthAdjust="spacingAndGlyphs" font-style="italic">Δnos</text>
<line x1="56.0" y1="318.3" x2="56.0" y2="516.5" stroke="#141414" stroke-width="1.9" />
<line x1="55.0" y1="515.5" x2="302.5" y2="515.5" stroke="#141414" stroke-width="1.9" />
<line x1="51.2" y1="515.5" x2="56.0" y2="515.5" stroke="#141414" stroke-width="1.5" />
<text x="51.0" y="519.4" font-size="15.6" text-anchor="end" font-family="Liberation Serif, serif" font-weight="bold" fill="#141414" stroke="#141414" stroke-width="0.42" textLength="14.0" lengthAdjust="spacingAndGlyphs" >26</text>
<line x1="51.2" y1="491.0" x2="56.0" y2="491.0" stroke="#141414" stroke-width="1.5" />
<text x="51.0" y="494.9" font-size="15.6" text-anchor="end" font-family="Liberation Serif, serif" font-weight="bold" fill="#141414" stroke="#141414" stroke-width="0.42" textLength="14.0" lengthAdjust="spacingAndGlyphs" >28</text>
<line x1="51.2" y1="466.4" x2="56.0" y2="466.4" stroke="#141414" stroke-width="1.5" />
<text x="51.0" y="470.3" font-size="15.6" text-anchor="end" font-family="Liberation Serif, serif" font-weight="bold" fill="#141414" stroke="#141414" stroke-width="0.42" textLength="14.0" lengthAdjust="spacingAndGlyphs" >30</text>
<line x1="51.2" y1="441.9" x2="56.0" y2="441.9" stroke="#141414" stroke-width="1.5" />
<text x="51.0" y="445.8" font-size="15.6" text-anchor="end" font-family="Liberation Serif, serif" font-weight="bold" fill="#141414" stroke="#141414" stroke-width="0.42" textLength="14.0" lengthAdjust="spacingAndGlyphs" >32</text>
<line x1="51.2" y1="417.3" x2="56.0" y2="417.3" stroke="#141414" stroke-width="1.5" />
<text x="51.0" y="421.2" font-size="15.6" text-anchor="end" font-family="Liberation Serif, serif" font-weight="bold" fill="#141414" stroke="#141414" stroke-width="0.42" textLength="14.0" lengthAdjust="spacingAndGlyphs" >34</text>
<line x1="51.2" y1="392.8" x2="56.0" y2="392.8" stroke="#141414" stroke-width="1.5" />
<text x="51.0" y="396.7" font-size="15.6" text-anchor="end" font-family="Liberation Serif, serif" font-weight="bold" fill="#141414" stroke="#141414" stroke-width="0.42" textLength="14.0" lengthAdjust="spacingAndGlyphs" >36</text>
<line x1="51.2" y1="368.3" x2="56.0" y2="368.3" stroke="#141414" stroke-width="1.5" />
<text x="51.0" y="372.2" font-size="15.6" text-anchor="end" font-family="Liberation Serif, serif" font-weight="bold" fill="#141414" stroke="#141414" stroke-width="0.42" textLength="14.0" lengthAdjust="spacingAndGlyphs" >38</text>
<line x1="51.2" y1="343.7" x2="56.0" y2="343.7" stroke="#141414" stroke-width="1.5" />
<text x="51.0" y="347.6" font-size="15.6" text-anchor="end" font-family="Liberation Serif, serif" font-weight="bold" fill="#141414" stroke="#141414" stroke-width="0.42" textLength="14.0" lengthAdjust="spacingAndGlyphs" >40</text>
<line x1="51.2" y1="319.2" x2="56.0" y2="319.2" stroke="#141414" stroke-width="1.5" />
<text x="51.0" y="323.1" font-size="15.6" text-anchor="end" font-family="Liberation Serif, serif" font-weight="bold" fill="#141414" stroke="#141414" stroke-width="0.42" textLength="14.0" lengthAdjust="spacingAndGlyphs" >42</text>
<line x1="53.3" y1="503.2" x2="56.0" y2="503.2" stroke="#141414" stroke-width="1.1" />
<line x1="53.3" y1="478.7" x2="56.0" y2="478.7" stroke="#141414" stroke-width="1.1" />
<line x1="53.3" y1="454.1" x2="56.0" y2="454.1" stroke="#141414" stroke-width="1.1" />
<line x1="53.3" y1="429.6" x2="56.0" y2="429.6" stroke="#141414" stroke-width="1.1" />
<line x1="53.3" y1="405.1" x2="56.0" y2="405.1" stroke="#141414" stroke-width="1.1" />
<line x1="53.3" y1="380.5" x2="56.0" y2="380.5" stroke="#141414" stroke-width="1.1" />
<line x1="53.3" y1="356.0" x2="56.0" y2="356.0" stroke="#141414" stroke-width="1.1" />
<line x1="53.3" y1="331.5" x2="56.0" y2="331.5" stroke="#141414" stroke-width="1.1" />
<rect x="74.7" y="404.2" width="25.9" height="111.3" fill="#949140" stroke="#7a7730" stroke-width="0.8"/>
<rect x="105.2" y="452.7" width="25.9" height="62.8" fill="#ff8e14" stroke="#d4700a" stroke-width="0.8"/>
<rect x="166.8" y="409.2" width="24.8" height="106.3" fill="#949140" stroke="#7a7730" stroke-width="0.8"/>
<rect x="197.5" y="352.7" width="24.8" height="162.8" fill="#b4101a" stroke="#84080e" stroke-width="0.8"/>
<rect x="227.9" y="464.1" width="25.7" height="51.4" fill="#ff8e14" stroke="#d4700a" stroke-width="0.8"/>
<rect x="258.7" y="482.2" width="25.2" height="33.3" fill="#d8559c" stroke="#b04080" stroke-width="0.8"/>
<path d="M87.7 389.1V418.6M84.8 389.1H90.6M84.8 418.6H90.6" stroke="#262626" stroke-width="1.2" fill="none"/>
<path d="M118.2 443.1V461.5M115.2 443.1H121.1M115.2 461.5H121.1" stroke="#262626" stroke-width="1.2" fill="none"/>
<path d="M179.2 391.6V425.9M176.3 391.6H182.1M176.3 425.9H182.1" stroke="#262626" stroke-width="1.2" fill="none"/>
<path d="M209.9 330.5V374.1M207.0 330.5H212.8M207.0 374.1H212.8" stroke="#262626" stroke-width="1.2" fill="none"/>
<path d="M240.8 458.0V469.5M237.8 458.0H243.7M237.8 469.5H243.7" stroke="#262626" stroke-width="1.2" fill="none"/>
<path d="M271.3 463.0V500.5M268.4 463.0H274.2M268.4 500.5H274.2" stroke="#262626" stroke-width="1.2" fill="none"/>
<line x1="55.0" y1="515.5" x2="302.5" y2="515.5" stroke="#141414" stroke-width="1.9" />
<text x="103.3" y="534.2" font-size="16" text-anchor="middle" font-family="Liberation Serif, serif" font-weight="bold" fill="#141414" stroke="#141414" stroke-width="0.42" >0</text>
<text x="223.7" y="534.2" font-size="16" text-anchor="middle" font-family="Liberation Serif, serif" font-weight="bold" fill="#141414" stroke="#141414" stroke-width="0.42" textLength="15.2" lengthAdjust="spacingAndGlyphs" >60</text>
<text x="157.9" y="548.5" font-size="15.5" text-anchor="middle" font-family="Liberation Serif, serif" font-weight="bold" fill="#141414" stroke="#141414" stroke-width="0.42" textLength="63.5" lengthAdjust="spacingAndGlyphs" >time, min</text>
<text transform="translate(15.0,409.8) rotate(-90)" font-size="13.5" text-anchor="middle" font-family="Liberation Serif, serif" font-weight="bold" fill="#141414" stroke="#141414" stroke-width="0.42" textLength="82.0" lengthAdjust="spacingAndGlyphs" >NO<tspan font-size="8" dy="3">2</tspan><tspan dy="-3">/NO</tspan><tspan font-size="8" dy="3">3</tspan><tspan dy="-3">, µM</tspan></text>
<text transform="translate(8.5,432.5) rotate(-90)" font-size="8" font-family="Liberation Serif, serif" font-weight="bold" fill="#141414">-</text>
<text transform="translate(8.5,402.5) rotate(-90)" font-size="8" font-family="Liberation Serif, serif" font-weight="bold" fill="#141414">-</text>
<rect x="236.9" y="307.0" width="19" height="7.6" fill="#949140" stroke="#7a7730" stroke-width="0.8"/>
<text x="260.2" y="314.1" font-size="13.5" text-anchor="start" font-family="Liberation Serif, serif" font-weight="bold" fill="#141414" stroke="#141414" stroke-width="0.42" textLength="12.9" lengthAdjust="spacingAndGlyphs" >wt</text>
<rect x="236.9" y="321.8" width="19" height="7.6" fill="#ff8e14" stroke="#d4700a" stroke-width="0.8"/>
<text x="260.2" y="328.6" font-size="13.5" text-anchor="start" font-family="Liberation Serif, serif" font-weight="bold" fill="#141414" stroke="#141414" stroke-width="0.42" textLength="23.5" lengthAdjust="spacingAndGlyphs" ><tspan font-style="italic">Δnos</tspan></text>
<rect x="236.9" y="336.4" width="19" height="7.6" fill="#b4101a" stroke="#84080e" stroke-width="0.8"/>
<text x="260.2" y="343.4" font-size="13.5" text-anchor="start" font-family="Liberation Serif, serif" font-weight="bold" fill="#141414" stroke="#141414" stroke-width="0.42" textLength="49.0" lengthAdjust="spacingAndGlyphs" >wt + CEF</text>
<rect x="236.9" y="351.6" width="19" height="7.6" fill="#d8559c" stroke="#b04080" stroke-width="0.8"/>
<text x="260.2" y="358.4" font-size="13.5" text-anchor="start" font-family="Liberation Serif, serif" font-weight="bold" fill="#141414" stroke="#141414" stroke-width="0.42" textLength="59.7" lengthAdjust="spacingAndGlyphs" ><tspan font-style="italic">Δnos</tspan> + CEF</text>
<line x1="408.4" y1="318.7" x2="408.4" y2="506.7" stroke="#141414" stroke-width="2.0" />
<line x1="407.4" y1="505.7" x2="642.2" y2="505.7" stroke="#141414" stroke-width="2.0" />
<line x1="403.6" y1="321.0" x2="408.4" y2="321.0" stroke="#141414" stroke-width="1.5" />
<line x1="403.6" y1="382.6" x2="408.4" y2="382.6" stroke="#141414" stroke-width="1.5" />
<line x1="403.6" y1="444.2" x2="408.4" y2="444.2" stroke="#141414" stroke-width="1.5" />
<line x1="403.6" y1="505.8" x2="408.4" y2="505.8" stroke="#141414" stroke-width="1.5" />
<line x1="405.7" y1="487.3" x2="408.4" y2="487.3" stroke="#141414" stroke-width="1.1" />
<line x1="405.7" y1="476.4" x2="408.4" y2="476.4" stroke="#141414" stroke-width="1.1" />
<line x1="405.7" y1="468.7" x2="408.4" y2="468.7" stroke="#141414" stroke-width="1.1" />
<line x1="405.7" y1="462.7" x2="408.4" y2="462.7" stroke="#141414" stroke-width="1.1" />
<line x1="405.7" y1="457.9" x2="408.4" y2="457.9" stroke="#141414" stroke-width="1.1" />
<line x1="405.7" y1="453.7" x2="408.4" y2="453.7" stroke="#141414" stroke-width="1.1" />
<line x1="405.7" y1="450.2" x2="408.4" y2="450.2" stroke="#141414" stroke-width="1.1" />
<line x1="405.7" y1="447.0" x2="408.4" y2="447.0" stroke="#141414" stroke-width="1.1" />
<line x1="405.7" y1="425.7" x2="408.4" y2="425.7" stroke="#141414" stroke-width="1.1" />
<line x1="405.7" y1="414.8" x2="408.4" y2="414.8" stroke="#141414" stroke-width="1.1" />
<line x1="405.7" y1="407.1" x2="408.4" y2="407.1" stroke="#141414" stroke-width="1.1" />
<line x1="405.7" y1="401.1" x2="408.4" y2="401.1" stroke="#141414" stroke-width="1.1" />
<line x1="405.7" y1="396.3" x2="408.4" y2="396.3" stroke="#141414" stroke-width="1.1" />
<line x1="405.7" y1="392.1" x2="408.4" y2="392.1" stroke="#141414" stroke-width="1.1" />
<line x1="405.7" y1="388.6" x2="408.4" y2="388.6" stroke="#141414" stroke-width="1.1" />
<line x1="405.7" y1="385.4" x2="408.4" y2="385.4" stroke="#141414" stroke-width="1.1" />
<line x1="405.7" y1="364.1" x2="408.4" y2="364.1" stroke="#141414" stroke-width="1.1" />
<line x1="405.7" y1="353.2" x2="408.4" y2="353.2" stroke="#141414" stroke-width="1.1" />
<line x1="405.7" y1="345.5" x2="408.4" y2="345.5" stroke="#141414" stroke-width="1.1" />
<line x1="405.7" y1="339.5" x2="408.4" y2="339.5" stroke="#141414" stroke-width="1.1" />
<line x1="405.7" y1="334.7" x2="408.4" y2="334.7" stroke="#141414" stroke-width="1.1" />
<line x1="405.7" y1="330.5" x2="408.4" y2="330.5" stroke="#141414" stroke-width="1.1" />
<line x1="405.7" y1="327.0" x2="408.4" y2="327.0" stroke="#141414" stroke-width="1.1" />
<line x1="405.7" y1="323.8" x2="408.4" y2="323.8" stroke="#141414" stroke-width="1.1" />
<line x1="414.3" y1="505.7" x2="414.3" y2="509.9" stroke="#141414" stroke-width="1.5" />
<line x1="467.1" y1="505.7" x2="467.1" y2="509.9" stroke="#141414" stroke-width="1.5" />
<line x1="519.9" y1="505.7" x2="519.9" y2="509.9" stroke="#141414" stroke-width="1.5" />
<line x1="572.7" y1="505.7" x2="572.7" y2="509.9" stroke="#141414" stroke-width="1.5" />
<line x1="625.5" y1="505.7" x2="625.5" y2="509.9" stroke="#141414" stroke-width="1.5" />
<line x1="440.7" y1="505.7" x2="440.7" y2="508.4" stroke="#141414" stroke-width="1.2" />
<line x1="493.5" y1="505.7" x2="493.5" y2="508.4" stroke="#141414" stroke-width="1.2" />
<line x1="546.3" y1="505.7" x2="546.3" y2="508.4" stroke="#141414" stroke-width="1.2" />
<line x1="599.1" y1="505.7" x2="599.1" y2="508.4" stroke="#141414" stroke-width="1.2" />
<text x="404.3" y="325.8" font-size="16.2" text-anchor="end" font-family="Liberation Serif, serif" font-weight="bold" fill="#141414" stroke="#141414" stroke-width="0.42" textLength="19.6" lengthAdjust="spacingAndGlyphs" >100</text>
<text x="404.3" y="387.2" font-size="16.2" text-anchor="end" font-family="Liberation Serif, serif" font-weight="bold" fill="#141414" stroke="#141414" stroke-width="0.42" textLength="13.6" lengthAdjust="spacingAndGlyphs" >10</text>
<text x="404.0" y="449.2" font-size="16.2" text-anchor="end" font-family="Liberation Serif, serif" font-weight="bold" fill="#141414" stroke="#141414" stroke-width="0.42" textLength="6.2" lengthAdjust="spacingAndGlyphs" >1</text>
<text x="402.4" y="510.3" font-size="16" text-anchor="end" font-family="Liberation Serif, serif" font-weight="bold" fill="#141414" stroke="#141414" stroke-width="0.42" textLength="15.8" lengthAdjust="spacingAndGlyphs" >0.1</text>
<text x="414.8" y="522.1" font-size="14.5" text-anchor="middle" font-family="Liberation Serif, serif" font-weight="bold" fill="#141414" stroke="#141414" stroke-width="0.42" textLength="16.6" lengthAdjust="spacingAndGlyphs" >0.0</text>
<text x="467.7" y="522.1" font-size="14.5" text-anchor="middle" font-family="Liberation Serif, serif" font-weight="bold" fill="#141414" stroke="#141414" stroke-width="0.42" textLength="16.6" lengthAdjust="spacingAndGlyphs" >0.5</text>
<text x="520.0" y="522.1" font-size="14.5" text-anchor="middle" font-family="Liberation Serif, serif" font-weight="bold" fill="#141414" stroke="#141414" stroke-width="0.42" textLength="16.6" lengthAdjust="spacingAndGlyphs" >1.0</text>
<text x="574.3" y="522.1" font-size="14.5" text-anchor="middle" font-family="Liberation Serif, serif" font-weight="bold" fill="#141414" stroke="#141414" stroke-width="0.42" textLength="16.6" lengthAdjust="spacingAndGlyphs" >1.5</text>
<text x="626.0" y="522.1" font-size="14.5" text-anchor="middle" font-family="Liberation Serif, serif" font-weight="bold" fill="#141414" stroke="#141414" stroke-width="0.42" textLength="16.6" lengthAdjust="spacingAndGlyphs" >2.0</text>
<text x="525.7" y="542.8" font-size="15.4" text-anchor="middle" font-family="Liberation Serif, serif" font-weight="bold" fill="#141414" stroke="#141414" stroke-width="0.42" textLength="69.3" lengthAdjust="spacingAndGlyphs" >time, hour</text>
<text transform="translate(374.3,395.6) rotate(-90)" font-size="14" text-anchor="middle" font-family="Liberation Serif, serif" font-weight="bold" fill="#141414" stroke="#141414" stroke-width="0.42" textLength="69.0" lengthAdjust="spacingAndGlyphs" >Survival, %</text>
<path d="M467.1 340.6V366.4M464.5 340.6H469.7M464.5 366.4H469.7" stroke="#3a3a3a" stroke-width="1.0" fill="none"/>
<path d="M519.9 400.6V440.0M517.3 400.6H522.5M517.3 440.0H522.5" stroke="#3a3a3a" stroke-width="1.0" fill="none"/>
<path d="M625.5 457.4V486.1M622.9 457.4H628.1M622.9 486.1H628.1" stroke="#3a3a3a" stroke-width="1.0" fill="none"/>
<polyline points="414.3,321.0 467.1,353.2 519.9,413.9 625.5,468.4" fill="none" stroke="#141414" stroke-width="1.5" stroke-linejoin="round" />
<rect x="464.6" y="350.7" width="5.0" height="5.0" fill="#0a0a0a" stroke="none" stroke-width="1"/>
<rect x="517.4" y="411.4" width="5.0" height="5.0" fill="#0a0a0a" stroke="none" stroke-width="1"/>
<rect x="623.0" y="465.9" width="5.0" height="5.0" fill="#0a0a0a" stroke="none" stroke-width="1"/>
<path d="M467.1 347.6V360.3M464.5 347.6H469.7M464.5 360.3H469.7" stroke="#e0553a" stroke-width="1.0" fill="none"/>
<path d="M519.9 349.1V371.9M517.3 349.1H522.5M517.3 371.9H522.5" stroke="#e0553a" stroke-width="1.0" fill="none"/>
<path d="M625.5 351.5V367.8M622.9 351.5H628.1M622.9 367.8H628.1" stroke="#e0553a" stroke-width="1.0" fill="none"/>
<polyline points="414.3,321.0 467.1,353.6 519.9,358.6 625.5,359.7" fill="none" stroke="#e8482a" stroke-width="1.5" stroke-linejoin="round" />
<circle cx="467.1" cy="353.6" r="2.9" fill="#d8281c" stroke="none" stroke-width="1"/>
<circle cx="519.9" cy="358.6" r="2.9" fill="#d8281c" stroke="none" stroke-width="1"/>
<circle cx="625.5" cy="359.7" r="2.9" fill="#d8281c" stroke="none" stroke-width="1"/>
<path d="M467.1 337.5V348.3M464.5 337.5H469.7M464.5 348.3H469.7" stroke="#86d078" stroke-width="1.0" fill="none"/>
<path d="M519.9 344.9V357.0M517.3 344.9H522.5M517.3 357.0H522.5" stroke="#86d078" stroke-width="1.0" fill="none"/>
<path d="M625.5 401.1V423.5M622.9 401.1H628.1M622.9 423.5H628.1" stroke="#86d078" stroke-width="1.0" fill="none"/>
<polyline points="414.3,321.0 467.1,342.4 519.9,350.5 625.5,409.6" fill="none" stroke="#78c668" stroke-width="1.5" stroke-linejoin="round" />
<polygon points="467.1,339.2 463.9,344.9 470.3,344.9" fill="#58c048"/>
<polygon points="519.9,347.3 516.7,353.1 523.1,353.1" fill="#58c048"/>
<polygon points="625.5,406.4 622.3,412.1 628.7,412.1" fill="#58c048"/>
<path d="M467.1 341.2V358.1M464.5 341.2H469.7M464.5 358.1H469.7" stroke="#6a6a98" stroke-width="1.0" fill="none"/>
<path d="M519.9 353.2V382.6M517.3 353.2H522.5M517.3 382.6H522.5" stroke="#6a6a98" stroke-width="1.0" fill="none"/>
<path d="M625.5 370.7V405.2M622.9 370.7H628.1M622.9 405.2H628.1" stroke="#6a6a98" stroke-width="1.0" fill="none"/>
<polyline points="414.3,321.0 467.1,348.3 519.9,364.5 625.5,385.1" fill="none" stroke="#48569e" stroke-width="1.5" stroke-linejoin="round" />
<polygon points="414.3,324.2 411.1,318.4 417.5,318.4" fill="#2f5aa0"/>
<polygon points="467.1,351.5 463.9,345.8 470.3,345.8" fill="#2f5aa0"/>
<polygon points="519.9,367.7 516.7,361.9 523.1,361.9" fill="#2f5aa0"/>
<polygon points="625.5,388.3 622.3,382.6 628.7,382.6" fill="#2f5aa0"/>
<circle cx="625.5" cy="359.7" r="2.9" fill="#d8281c" stroke="none" stroke-width="1"/>
<line x1="418.6" y1="445.4" x2="440.2" y2="445.4" stroke="#141414" stroke-width="1.3" />
<rect x="426.8" y="443.0" width="4.8" height="4.8" fill="#0a0a0a" stroke="none" stroke-width="1"/>
<text x="442.1" y="449.0" font-size="13.2" text-anchor="start" font-family="Liberation Serif, serif" font-weight="bold" fill="#141414" stroke="#141414" stroke-width="0.42" textLength="23.0" lengthAdjust="spacingAndGlyphs" ><tspan font-style="italic">Δnos</tspan></text>
<line x1="418.6" y1="460.2" x2="440.2" y2="460.2" stroke="#e8482a" stroke-width="1.3" />
<circle cx="429.2" cy="460.2" r="2.6" fill="#d8281c" stroke="none" stroke-width="1"/>
<text x="442.1" y="463.8" font-size="13.2" text-anchor="start" font-family="Liberation Serif, serif" font-weight="bold" fill="#141414" stroke="#141414" stroke-width="0.42" textLength="76.6" lengthAdjust="spacingAndGlyphs" ><tspan font-style="italic">Δnos</tspan>+Bipyridyl</text>
<line x1="418.6" y1="474.5" x2="440.2" y2="474.5" stroke="#70c462" stroke-width="1.3" />
<polygon points="429.2,471.5 426.2,476.9 432.2,476.9" fill="#58c048"/>
<text x="442.1" y="478.2" font-size="13.2" text-anchor="start" font-family="Liberation Serif, serif" font-weight="bold" fill="#141414" stroke="#141414" stroke-width="0.42" textLength="47.4" lengthAdjust="spacingAndGlyphs" ><tspan font-style="italic">Δnos</tspan>+NO</text>
<line x1="418.6" y1="488.8" x2="440.2" y2="488.8" stroke="#48569e" stroke-width="1.3" />
<polygon points="429.2,491.8 426.2,486.4 432.2,486.4" fill="#2f5aa0"/>
<text x="442.1" y="492.5" font-size="13.2" text-anchor="start" font-family="Liberation Serif, serif" font-weight="bold" fill="#141414" stroke="#141414" stroke-width="0.42" textLength="57.5" lengthAdjust="spacingAndGlyphs" ><tspan font-style="italic">Δnos</tspan>+sUrea</text>
<g opacity="0.5">
<g fill="#7d7d7d">
<ellipse cx="504" cy="519" rx="8.8" ry="7.5"/>
<polygon points="498.5,524 496.8,529 502.5,526"/>
</g>
<ellipse cx="516.2" cy="526.9" rx="9" ry="6.9" fill="#7d7d7d" stroke="#fff" stroke-width="1.1"/>
<polygon points="520.5,532 523.5,535.3 517.5,533.2" fill="#7d7d7d"/>
<g fill="#fff"><circle cx="501" cy="516.3" r="1.3"/><circle cx="507.5" cy="516.3" r="1.3"/><circle cx="513.5" cy="524.6" r="1.1"/><circle cx="519" cy="524.6" r="1.1"/></g>
</g>
<g fill="#7a7a7a" opacity="0.55" font-size="22" font-family="Liberation Sans, Noto Sans CJK SC, sans-serif" font-weight="300">
<text x="531.5" y="531.8">公众号</text>
<text x="609" y="531.8" text-anchor="middle">·</text>
<text x="622.5" y="531.8" textLength="178.5">上海谓载仪器资讯</text>
</g>
</g>
</svg>
</body></html>
